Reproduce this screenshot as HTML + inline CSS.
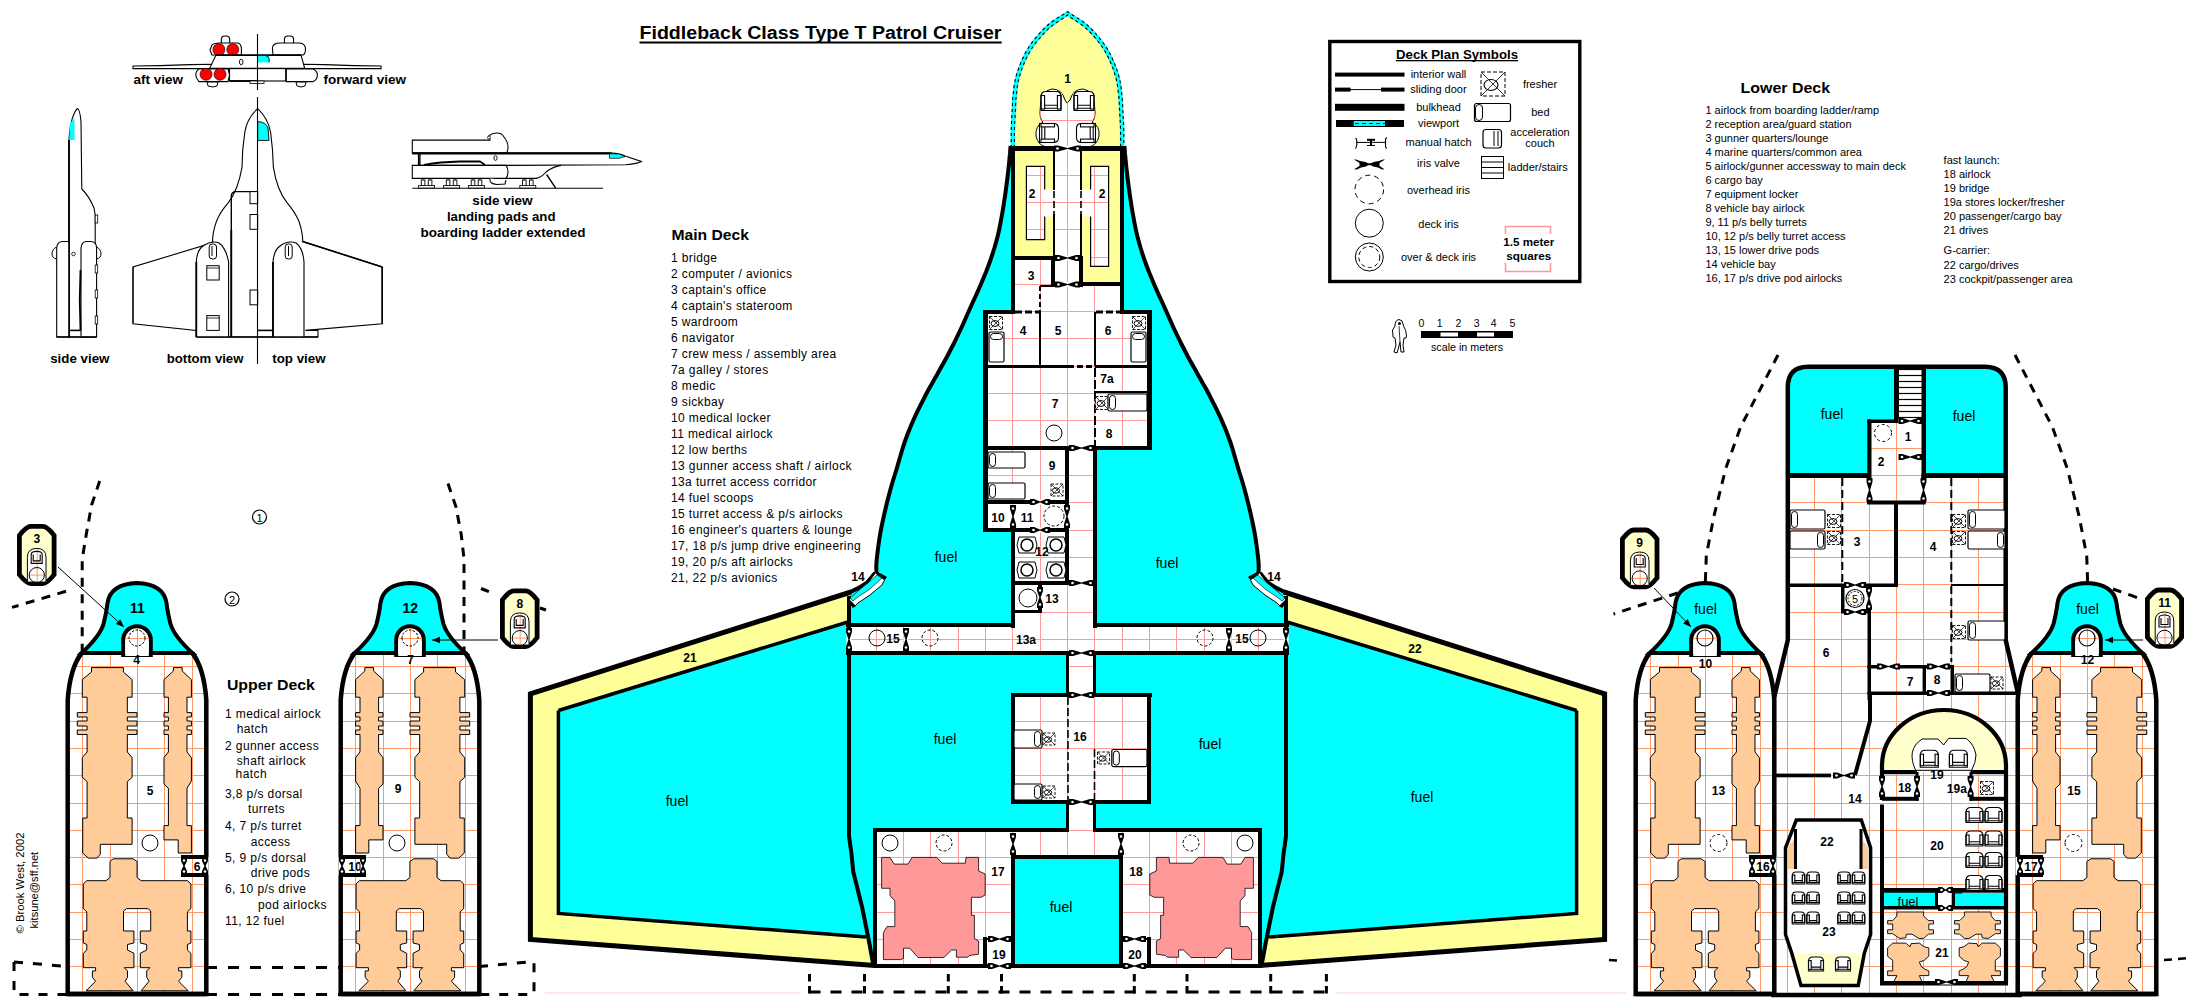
<!DOCTYPE html>
<html><head><meta charset="utf-8"><style>
html,body{margin:0;padding:0;background:#fff;overflow:hidden}
svg{display:block}
text{font-family:"Liberation Sans",sans-serif}
</style></head><body>
<svg width="2193" height="1002" viewBox="0 0 2193 1002" font-family="Liberation Sans, sans-serif">
<rect width="2193" height="1002" fill="#fff"/>
<polygon points="1010.5,148 1010.3,149.1 1010,153.5 1009.5,158.7 1009,164 1008.4,169.6 1007.7,175.6 1006.9,181.9 1006.1,188 1005.3,194 1004.4,200 1003.5,206 1002.5,212 1001.4,218 1000.3,224 999.1,230 997.7,236 996.1,242 994.4,248 992.5,254 990.5,260 988.3,266 986,272 983.5,278 981,284 978.4,290 975.7,296 972.9,302 970.2,308 967.5,314 964.9,320 962.2,326 959.4,332 956.5,338 953.6,344 950.5,350 947.4,356 944,362.2 940.4,368.6 937,374.7 934,380 931.8,384 930,387 928.3,390 926.2,394 923.5,399.3 920.4,405.4 917.2,411.8 914.3,418 911.7,424 909.2,430 906.9,436 904.7,442 902.7,448 901,454 899.2,460 897.5,466 895.7,472 893.8,478 892,484 890.3,490 888.7,496 887.1,502 885.7,508 884.3,514 883,520 881.7,526 880.5,532 879.5,538 878.6,544.3 877.7,550.9 877,557 876.5,562 876.3,565.7 876.3,568.5 876.4,570.5 876.5,572 874.3,574 867,582.8 858.2,588.1 849.8,592.3 849,600 849,836 851.5,854 853.3,872 857.8,890 862.3,908 865.9,926 869.5,944 873.5,965.5 1261.5,965.5 1265.5,944 1269.1,926 1272.7,908 1277.2,890 1281.7,872 1283.5,854 1286,836 1286,600 1285.2,592.3 1276.8,588.1 1268,582.8 1260.7,574 1258.5,572 1258.6,570.5 1258.7,568.5 1258.7,565.7 1258.5,562 1258,557 1257.3,550.9 1256.4,544.3 1255.5,538 1254.5,532 1253.3,526 1252,520 1250.7,514 1249.3,508 1247.8,502 1246.3,496 1244.7,490 1243,484 1241.2,478 1239.3,472 1237.5,466 1235.8,460 1234,454 1232.3,448 1230.3,442 1228.1,436 1225.8,430 1223.3,424 1220.7,418 1217.8,411.8 1214.6,405.4 1211.5,399.3 1208.8,394 1206.7,390 1205,387 1203.2,384 1201,380 1198,374.7 1194.6,368.6 1191,362.2 1187.6,356 1184.5,350 1181.4,344 1178.5,338 1175.6,332 1172.8,326 1170.1,320 1167.5,314 1164.8,308 1162.1,302 1159.3,296 1156.6,290 1154,284 1151.5,278 1149,272 1146.7,266 1144.5,260 1142.5,254 1140.6,248 1138.9,242 1137.3,236 1135.9,230 1134.7,224 1133.6,218 1132.5,212 1131.5,206 1130.6,200 1129.7,194 1128.9,188 1128.1,181.9 1127.3,175.6 1126.6,169.6 1126,164 1125.5,158.7 1125,153.5 1124.7,149.1 1124.5,148" fill="#00ffff" stroke="none" stroke-width="1" />
<polygon points="530.4,693.9 851,592 849,600 849,836 851.5,854 853.3,872 857.8,890 862.3,908 865.9,926 869.5,944 873.5,965.5 530.4,939.5" fill="#ffff99" stroke="none" stroke-width="1" />
<polygon points="558.4,710.5 848,622 849,836 851.5,854 853.3,872 857.8,890 862.3,908 865.9,926 868,937 558.4,913.5" fill="#00ffff" stroke="none" stroke-width="1" />
<polyline points="558.4,710.5 848,622" fill="none" stroke="#000" stroke-width="3.5" />
<polyline points="558.4,710.5 558.4,913.5 866,937" fill="none" stroke="#000" stroke-width="3.5" />
<polyline points="851,592 530.4,693.9 530.4,939.5 875,965.5" fill="none" stroke="#000" stroke-width="5" stroke-linejoin="miter"/>
<polygon points="1604.6,693.9 1284,592 1286,600 1286,836 1283.5,854 1281.7,872 1277.2,890 1272.7,908 1269.1,926 1265.5,944 1261.5,965.5 1604.6,939.5" fill="#ffff99" stroke="none" stroke-width="1" />
<polygon points="1576.6,710.5 1287,622 1286,836 1283.5,854 1281.7,872 1277.2,890 1272.7,908 1269.1,926 1267,937 1576.6,913.5" fill="#00ffff" stroke="none" stroke-width="1" />
<polyline points="1576.6,710.5 1287,622" fill="none" stroke="#000" stroke-width="3.5" />
<polyline points="1576.6,710.5 1576.6,913.5 1269,937" fill="none" stroke="#000" stroke-width="3.5" />
<polyline points="1284,592 1604.6,693.9 1604.6,939.5 1260,965.5" fill="none" stroke="#000" stroke-width="5" stroke-linejoin="miter"/>
<polygon points="1010.5,148 1010.5,144.4 1010.5,139.1 1010.5,133.3 1010.6,128 1010.8,123.3 1011,118.6 1011.3,114.2 1011.5,110 1011.7,106.3 1011.8,103.1 1012,99.8 1012.3,96 1012.8,91.6 1013.3,86.8 1014.1,81.9 1015.2,77 1016.6,72.1 1018.4,67.1 1020.3,62.1 1022.4,57.5 1024.5,53.3 1026.6,49.4 1029,45.5 1031.9,41.5 1035.4,37.1 1039.3,32.6 1043.5,28.1 1047.9,24 1053,20.1 1058.7,16.4 1063.9,13.2 1067.5,11 1071.1,13.2 1076.3,16.4 1082,20.1 1087.1,24 1091.5,28.1 1095.7,32.6 1099.6,37.1 1103.1,41.5 1106,45.5 1108.4,49.4 1110.5,53.3 1112.6,57.5 1114.7,62.1 1116.6,67.1 1118.4,72.1 1119.8,77 1120.9,81.9 1121.7,86.8 1122.2,91.6 1122.7,96 1123,99.8 1123.2,103.1 1123.3,106.3 1123.5,110 1123.7,114.2 1124,118.6 1124.2,123.3 1124.4,128 1124.5,133.3 1124.5,139.1 1124.5,144.4 1124.5,148" fill="#00ffff" stroke="none" stroke-width="1" />
<polygon points="1015.1,150 1015.1,144.4 1015.1,139.1 1015.1,133.4 1015.2,128.1 1015.4,123.5 1015.6,118.9 1015.9,114.4 1016.1,110.2 1016.3,106.5 1016.4,103.3 1016.5,100.1 1016.9,96.5 1017.3,92.1 1017.9,87.5 1018.6,82.8 1019.7,78.1 1021,73.5 1022.7,68.7 1024.6,63.9 1026.6,59.4 1028.5,55.4 1030.6,51.7 1032.8,48.1 1035.6,44.3 1038.9,40 1042.7,35.6 1046.7,31.4 1050.9,27.5 1055.7,23.9 1061.2,20.3 1066.3,17.1 1067.5,15.6 1068.7,17.1 1073.8,20.3 1079.3,23.9 1084.1,27.5 1088.3,31.4 1092.3,35.6 1096.1,40 1099.4,44.3 1102.2,48.1 1104.4,51.7 1106.5,55.4 1108.4,59.4 1110.4,63.9 1112.3,68.7 1114,73.5 1115.3,78.1 1116.4,82.8 1117.1,87.5 1117.7,92.1 1118.1,96.5 1118.5,100.1 1118.6,103.3 1118.7,106.5 1118.9,110.2 1119.1,114.4 1119.4,118.9 1119.6,123.5 1119.8,128.1 1119.9,133.4 1119.9,139.1 1119.9,144.4 1119.9,150" fill="#ffff99" stroke="none" stroke-width="1" />
<clipPath id="mdfloor">
<rect x="1054" y="148" width="27" height="164"/>
<rect x="1014" y="259" width="40" height="53"/>
<rect x="1014" y="285" width="108" height="27"/>
<rect x="986" y="312" width="163" height="136"/>
<rect x="986" y="448" width="81" height="82"/>
<rect x="1067" y="448" width="28" height="382"/>
<rect x="1013" y="530" width="54" height="97"/>
<rect x="849" y="626" width="437" height="27"/>
<rect x="1013" y="695" width="136" height="107"/>
<rect x="875" y="830" width="385" height="136"/>
</clipPath>
<rect x="1054" y="148" width="27" height="164" fill="#fff" stroke="none" stroke-width="1" />
<rect x="1014" y="259" width="40" height="53" fill="#fff" stroke="none" stroke-width="1" />
<rect x="1014" y="285" width="108" height="27" fill="#fff" stroke="none" stroke-width="1" />
<rect x="986" y="312" width="163" height="136" fill="#fff" stroke="none" stroke-width="1" />
<rect x="986" y="448" width="81" height="82" fill="#fff" stroke="none" stroke-width="1" />
<rect x="1067" y="448" width="28" height="382" fill="#fff" stroke="none" stroke-width="1" />
<rect x="1013" y="530" width="54" height="97" fill="#fff" stroke="none" stroke-width="1" />
<rect x="849" y="626" width="437" height="27" fill="#fff" stroke="none" stroke-width="1" />
<rect x="1013" y="695" width="136" height="107" fill="#fff" stroke="none" stroke-width="1" />
<rect x="875" y="830" width="385" height="136" fill="#fff" stroke="none" stroke-width="1" />
<rect x="1014" y="150" width="40" height="107" fill="#ffff99" stroke="none" stroke-width="1" />
<rect x="1081" y="150" width="41" height="134" fill="#ffff99" stroke="none" stroke-width="1" />
<polygon points="1026.4,166.4 1044.7,166.4 1044.7,189.6 1053,189.6 1053,216.6 1044.7,216.6 1044.7,239.6 1026.4,239.6" fill="#fff" stroke="none" stroke-width="1" />
<polygon points="1108.6,166.4 1090.6,166.4 1090.6,189.6 1081.6,189.6 1081.6,216.6 1090.6,216.6 1090.6,266.3 1108.6,266.3" fill="#fff" stroke="none" stroke-width="1" />
<path d="M1040,112 Q1040,90 1052,89 Q1062,89 1065,100 L1067,103 L1070,100 Q1073,89 1083,89 Q1095,90 1095,112 Q1095,120 1092,122 Q1100,126 1099,136 Q1097,146 1088,147 L1047,147 Q1038,146 1036,136 Q1035,126 1043,122 Q1040,120 1040,112 Z" fill="#fff" stroke="#000" stroke-width="1" />
<path d="M821.5 90V970M849.5 90V970M876.5 90V970M903.5 90V970M930.5 90V970M958.5 90V970M985.5 90V970M1012.5 90V970M1040.5 90V970M1067.5 90V970M1094.5 90V970M1122.5 90V970M1149.5 90V970M1176.5 90V970M1204.5 90V970M1231.5 90V970M1258.5 90V970M1285.5 90V970M1313.5 90V970M840 66.5H1290M840 93.5H1290M840 120.5H1290M840 147.5H1290M840 175.5H1290M840 202.5H1290M840 229.5H1290M840 257.5H1290M840 284.5H1290M840 311.5H1290M840 338.5H1290M840 366.5H1290M840 393.5H1290M840 420.5H1290M840 448.5H1290M840 475.5H1290M840 502.5H1290M840 530.5H1290M840 557.5H1290M840 584.5H1290M840 612.5H1290M840 639.5H1290M840 666.5H1290M840 693.5H1290M840 721.5H1290M840 748.5H1290M840 775.5H1290M840 803.5H1290M840 830.5H1290M840 857.5H1290M840 884.5H1290M840 912.5H1290M840 939.5H1290M840 966.5H1290M840 994.5H1290" stroke="#ff9999" stroke-width="1" fill="none" clip-path="url(#mdfloor)"/>
<clipPath id="brclip"><path d="M1040,112 Q1040,90 1052,89 Q1062,89 1065,100 L1067,103 L1070,100 Q1073,89 1083,89 Q1095,90 1095,112 Q1095,120 1092,122 Q1100,126 1099,136 Q1097,146 1088,147 L1047,147 Q1038,146 1036,136 Q1035,126 1043,122 Q1040,120 1040,112 Z"/></clipPath>
<path d="M1012.5 85V148M1040.5 85V148M1067.5 85V148M1094.5 85V148M1122.5 85V148M1030 66.5H1105M1030 93.5H1105M1030 120.5H1105M1030 147.5H1105M1030 175.5H1105" stroke="#ff9999" stroke-width="1" fill="none" clip-path="url(#brclip)"/>
<clipPath id="hclip"><polygon points="1026.4,166.4 1044.7,166.4 1044.7,189.6 1053,189.6 1053,216.6 1044.7,216.6 1044.7,239.6 1026.4,239.6"/><polygon points="1108.6,166.4 1090.6,166.4 1090.6,189.6 1081.6,189.6 1081.6,216.6 1090.6,216.6 1090.6,266.3 1108.6,266.3"/></clipPath>
<path d="M1012.5 150V284M1040.5 150V284M1067.5 150V284M1094.5 150V284M1122.5 150V284M1149.5 150V284M1014 147.5H1122M1014 175.5H1122M1014 202.5H1122M1014 229.5H1122M1014 257.5H1122M1014 284.5H1122M1014 311.5H1122" stroke="#ff9999" stroke-width="1" fill="none" clip-path="url(#hclip)"/>
<polyline points="1044.7,216.6 1044.7,239.6 1026.4,239.6 1026.4,166.4 1044.7,166.4 1044.7,189.6" fill="none" stroke="#000" stroke-width="1.2" />
<polyline points="1090.6,216.6 1090.6,266.3 1108.6,266.3 1108.6,166.4 1090.6,166.4 1090.6,189.6" fill="none" stroke="#000" stroke-width="1.2" />
<rect x="1013" y="857" width="108" height="109" fill="#00ffff" stroke="none" stroke-width="1" />
<polygon points="881.6,857.4 890,857.4 894.2,864.1 907.9,864.1 912.1,857.4 936.7,857.4 942.1,863.2 965.4,863.2 966,857.4 978.6,857.4 978.6,871 985.2,874 985.2,894.9 981,897.3 971.4,897.3 971.4,915.3 974.4,915.3 974.4,938.6 978.6,941 978.6,954.2 969.6,955.4 967.8,957.2 956.4,957.2 956.4,950 951.6,950 943.9,957.5 918.1,957.5 909.7,948.2 903.5,948.2 903.5,958.4 900.7,959.6 883.4,959.6 883.4,932.6 887,926.6 894.8,926.6 894.8,900.9 890,895.5 890,888.3 881.6,888.3" fill="#ff9999" stroke="#000" stroke-width="0.8" />
<polygon points="1253.4,857.4 1245,857.4 1240.8,864.1 1227.1,864.1 1222.9,857.4 1198.3,857.4 1192.9,863.2 1169.6,863.2 1169,857.4 1156.4,857.4 1156.4,871 1149.8,874 1149.8,894.9 1154,897.3 1163.6,897.3 1163.6,915.3 1160.6,915.3 1160.6,938.6 1156.4,941 1156.4,954.2 1165.4,955.4 1167.2,957.2 1178.6,957.2 1178.6,950 1183.4,950 1191.1,957.5 1216.9,957.5 1225.3,948.2 1231.5,948.2 1231.5,958.4 1234.3,959.6 1251.6,959.6 1251.6,932.6 1248,926.6 1240.2,926.6 1240.2,900.9 1245,895.5 1245,888.3 1253.4,888.3" fill="#ff9999" stroke="#000" stroke-width="0.8" />
<polyline points="1011.2,148 1011.2,144.4 1011.2,139.1 1011.2,133.3 1011.3,128 1011.5,123.3 1011.7,118.7 1012,114.2 1012.2,110 1012.4,106.4 1012.5,103.1 1012.7,99.8 1013,96.1 1013.5,91.7 1014,86.9 1014.8,82 1015.9,77.2 1017.3,72.3 1019,67.3 1021,62.4 1023,57.8 1025.1,53.6 1027.2,49.7 1029.6,45.9 1032.5,41.9 1035.9,37.6 1039.8,33 1044,28.6 1048.4,24.5 1053.4,20.7 1059.1,17 1064.3,13.8 1067.5,11.7 1070.7,13.8 1075.9,17 1081.6,20.7 1086.6,24.5 1091,28.6 1095.2,33 1099.1,37.6 1102.5,41.9 1105.4,45.9 1107.8,49.7 1109.9,53.6 1112,57.8 1114,62.4 1116,67.3 1117.7,72.3 1119.1,77.2 1120.2,82 1121,86.9 1121.5,91.7 1122,96.1 1122.3,99.8 1122.5,103.1 1122.6,106.4 1122.8,110 1123,114.2 1123.3,118.7 1123.5,123.3 1123.7,128 1123.8,133.3 1123.8,139.1 1123.8,144.4 1123.8,148" fill="none" stroke="#000" stroke-width="1.1" stroke-dasharray="3 3"/>
<polyline points="1014.4,148 1014.4,144.4 1014.4,139.1 1014.4,133.4 1014.5,128.1 1014.7,123.4 1014.9,118.8 1015.2,114.4 1015.4,110.2 1015.6,106.5 1015.7,103.2 1015.8,100 1016.2,96.4 1016.7,92.1 1017.2,87.4 1018,82.6 1019,78 1020.4,73.3 1022,68.4 1023.9,63.7 1025.9,59.1 1027.9,55.1 1030,51.3 1032.3,47.7 1035,43.8 1038.4,39.6 1042.2,35.2 1046.2,30.9 1050.4,27 1055.3,23.3 1060.8,19.7 1065.9,16.6 1067.5,14.9 1069.1,16.6 1074.2,19.7 1079.7,23.3 1084.6,27 1088.8,30.9 1092.8,35.2 1096.6,39.6 1100,43.8 1102.7,47.7 1105,51.3 1107.1,55.1 1109.1,59.1 1111.1,63.7 1113,68.4 1114.6,73.3 1116,78 1117,82.6 1117.8,87.4 1118.3,92.1 1118.8,96.4 1119.2,100 1119.3,103.2 1119.4,106.5 1119.6,110.2 1119.8,114.4 1120.1,118.8 1120.3,123.4 1120.5,128.1 1120.6,133.4 1120.6,139.1 1120.6,144.4 1120.6,148" fill="none" stroke="#000" stroke-width="1.1" stroke-dasharray="3 3"/>
<polyline points="1010.6,146 1010.3,149.1 1010,153.5 1009.5,158.7 1009,164 1008.4,169.6 1007.7,175.6 1006.9,181.9 1006.1,188 1005.3,194 1004.4,200 1003.5,206 1002.5,212 1001.4,218 1000.3,224 999.1,230 997.7,236 996.1,242 994.4,248 992.5,254 990.5,260 988.3,266 986,272 983.5,278 981,284 978.4,290 975.7,296 972.9,302 970.2,308 967.5,314 964.9,320 962.2,326 959.4,332 956.5,338 953.6,344 950.5,350 947.4,356 944,362.2 940.4,368.6 937,374.7 934,380 931.8,384 930,387 928.3,390 926.2,394 923.5,399.3 920.4,405.4 917.2,411.8 914.3,418 911.7,424 909.2,430 906.9,436 904.7,442 902.7,448 901,454 899.2,460 897.5,466 895.7,472 893.8,478 892,484 890.3,490 888.7,496 887.1,502 885.7,508 884.3,514 883,520 881.7,526 880.5,532 879.5,538 878.6,544.3 877.7,550.9 877,557 876.5,562 876.3,565.7 876.3,568.5 876.4,570.5 876.5,572 874.3,574 867,582.8 858.2,588.1 849.8,592.3" fill="none" stroke="#000" stroke-width="4" />
<polyline points="1124.4,146 1124.7,149.1 1125,153.5 1125.5,158.7 1126,164 1126.6,169.6 1127.3,175.6 1128.1,181.9 1128.9,188 1129.7,194 1130.6,200 1131.5,206 1132.5,212 1133.6,218 1134.7,224 1135.9,230 1137.3,236 1138.9,242 1140.6,248 1142.5,254 1144.5,260 1146.7,266 1149,272 1151.5,278 1154,284 1156.6,290 1159.3,296 1162.1,302 1164.8,308 1167.5,314 1170.1,320 1172.8,326 1175.6,332 1178.5,338 1181.4,344 1184.5,350 1187.6,356 1191,362.2 1194.6,368.6 1198,374.7 1201,380 1203.2,384 1205,387 1206.7,390 1208.8,394 1211.5,399.3 1214.6,405.4 1217.8,411.8 1220.7,418 1223.3,424 1225.8,430 1228.1,436 1230.3,442 1232.3,448 1234,454 1235.8,460 1237.5,466 1239.3,472 1241.2,478 1243,484 1244.7,490 1246.3,496 1247.8,502 1249.3,508 1250.7,514 1252,520 1253.3,526 1254.5,532 1255.5,538 1256.4,544.3 1257.3,550.9 1258,557 1258.5,562 1258.7,565.7 1258.7,568.5 1258.6,570.5 1258.5,572 1260.7,574 1268,582.8 1276.8,588.1 1285.2,592.3" fill="none" stroke="#000" stroke-width="4" />
<polyline points="849,596 849,836 851.5,854 853.3,872 857.8,890 862.3,908 865.9,926 869.5,944 873.5,966" fill="none" stroke="#000" stroke-width="4" />
<polyline points="1286,596 1286,836 1283.5,854 1281.7,872 1277.2,890 1272.7,908 1269.1,926 1265.5,944 1261.5,966" fill="none" stroke="#000" stroke-width="4" />
<rect x="1010" y="146" width="115" height="5" fill="#000" stroke="none" stroke-width="1" />
<rect x="1011" y="148" width="4" height="165" fill="#000" stroke="none" stroke-width="1" />
<rect x="1120" y="148" width="4" height="165" fill="#000" stroke="none" stroke-width="1" />
<rect x="1053" y="148" width="2" height="42" fill="#000" stroke="none" stroke-width="1" />
<rect x="1053" y="214" width="2" height="45" fill="#000" stroke="none" stroke-width="1" />
<rect x="1080" y="148" width="2" height="42" fill="#000" stroke="none" stroke-width="1" />
<rect x="1080" y="214" width="2" height="72" fill="#000" stroke="none" stroke-width="1" />
<line x1="1054" y1="191" x2="1054" y2="214" stroke="#000" stroke-width="1.6" stroke-dasharray="7 3" />
<line x1="1081" y1="191" x2="1081" y2="214" stroke="#000" stroke-width="1.6" stroke-dasharray="7 3" />
<rect x="1011" y="256" width="44" height="4" fill="#000" stroke="none" stroke-width="1" />
<rect x="1051" y="256" width="4" height="31" fill="#000" stroke="none" stroke-width="1" />
<rect x="1079" y="256" width="4" height="31" fill="#000" stroke="none" stroke-width="1" />
<rect x="1081" y="282" width="43" height="4" fill="#000" stroke="none" stroke-width="1" />
<line x1="1040" y1="286" x2="1040" y2="312" stroke="#000" stroke-width="2" stroke-dasharray="5 3" />
<line x1="1040" y1="286" x2="1053" y2="286" stroke="#000" stroke-width="2" />
<rect x="983" y="310" width="32" height="4" fill="#000" stroke="none" stroke-width="1" />
<rect x="1120" y="310" width="32" height="4" fill="#000" stroke="none" stroke-width="1" />
<line x1="1015" y1="312" x2="1040" y2="312" stroke="#000" stroke-width="3" stroke-dasharray="7 3" />
<line x1="1096" y1="312" x2="1120" y2="312" stroke="#000" stroke-width="3" stroke-dasharray="7 3" />
<rect x="983" y="310" width="5" height="222" fill="#000" stroke="none" stroke-width="1" />
<rect x="1147" y="310" width="5" height="140" fill="#000" stroke="none" stroke-width="1" />
<rect x="1039" y="312" width="2" height="54" fill="#000" stroke="none" stroke-width="1" />
<rect x="1094" y="312" width="2" height="54" fill="#000" stroke="none" stroke-width="1" />
<rect x="986" y="365" width="82" height="3" fill="#000" stroke="none" stroke-width="1" />
<rect x="1096" y="365" width="53" height="3" fill="#000" stroke="none" stroke-width="1" />
<line x1="1068" y1="366.5" x2="1096" y2="366.5" stroke="#000" stroke-width="3" stroke-dasharray="6 3" />
<line x1="1095" y1="368" x2="1095" y2="446" stroke="#000" stroke-width="2" stroke-dasharray="9 3" />
<rect x="1094" y="391" width="55" height="2" fill="#000" stroke="none" stroke-width="1" />
<rect x="983" y="446" width="169" height="4" fill="#000" stroke="none" stroke-width="1" />
<rect x="1065" y="448" width="4" height="137" fill="#000" stroke="none" stroke-width="1" />
<rect x="1093" y="448" width="4" height="180" fill="#000" stroke="none" stroke-width="1" />
<rect x="986" y="500" width="82" height="4" fill="#000" stroke="none" stroke-width="1" />
<rect x="983" y="528" width="85" height="4" fill="#000" stroke="none" stroke-width="1" />
<rect x="1011" y="528" width="4" height="100" fill="#000" stroke="none" stroke-width="1" />
<rect x="1012" y="505" width="2" height="25" fill="#000" stroke="none" stroke-width="1" />
<rect x="1013" y="581" width="56" height="4" fill="#000" stroke="none" stroke-width="1" />
<rect x="1038" y="584" width="4" height="29" fill="#000" stroke="none" stroke-width="1" />
<rect x="1013" y="610" width="29" height="3" fill="#000" stroke="none" stroke-width="1" />
<rect x="846" y="623" width="169" height="4" fill="#000" stroke="none" stroke-width="1" />
<rect x="1093" y="623" width="196" height="4" fill="#000" stroke="none" stroke-width="1" />
<rect x="846" y="651" width="223" height="4" fill="#000" stroke="none" stroke-width="1" />
<rect x="1093" y="651" width="196" height="4" fill="#000" stroke="none" stroke-width="1" />
<rect x="1011" y="693" width="58" height="4" fill="#000" stroke="none" stroke-width="1" />
<rect x="1093" y="693" width="59" height="4" fill="#000" stroke="none" stroke-width="1" />
<rect x="1011" y="693" width="4" height="111" fill="#000" stroke="none" stroke-width="1" />
<rect x="1147" y="693" width="4" height="111" fill="#000" stroke="none" stroke-width="1" />
<rect x="1011" y="800" width="58" height="4" fill="#000" stroke="none" stroke-width="1" />
<rect x="1093" y="800" width="58" height="4" fill="#000" stroke="none" stroke-width="1" />
<rect x="1066" y="655" width="3" height="42" fill="#000" stroke="none" stroke-width="1" />
<rect x="1093" y="655" width="3" height="42" fill="#000" stroke="none" stroke-width="1" />
<line x1="1068" y1="697" x2="1068" y2="800" stroke="#000" stroke-width="1.6" stroke-dasharray="8 3" />
<line x1="1094.5" y1="749" x2="1094.5" y2="800" stroke="#000" stroke-width="1.6" stroke-dasharray="8 3" />
<rect x="1066" y="802" width="3" height="30" fill="#000" stroke="none" stroke-width="1" />
<rect x="1093" y="802" width="3" height="30" fill="#000" stroke="none" stroke-width="1" />
<rect x="873" y="828" width="196" height="4" fill="#000" stroke="none" stroke-width="1" />
<rect x="1093" y="828" width="169" height="4" fill="#000" stroke="none" stroke-width="1" />
<rect x="873" y="830" width="4" height="138" fill="#000" stroke="none" stroke-width="1" />
<rect x="1258" y="830" width="4" height="138" fill="#000" stroke="none" stroke-width="1" />
<rect x="873" y="964" width="389" height="4" fill="#000" stroke="none" stroke-width="1" />
<rect x="1011" y="855" width="112" height="4" fill="#000" stroke="none" stroke-width="1" />
<rect x="1011" y="855" width="4" height="111" fill="#000" stroke="none" stroke-width="1" />
<rect x="1119" y="855" width="4" height="111" fill="#000" stroke="none" stroke-width="1" />
<rect x="983" y="937" width="4" height="29" fill="#000" stroke="none" stroke-width="1" />
<rect x="1147" y="937" width="4" height="29" fill="#000" stroke="none" stroke-width="1" />
<line x1="985" y1="939" x2="1013" y2="939" stroke="#000" stroke-width="2" />
<line x1="1121" y1="939" x2="1149" y2="939" stroke="#000" stroke-width="2" />
<rect x="1054" y="146" width="27" height="5" fill="#fff" stroke="none" stroke-width="1" />
<path d="M1054 145.5L1058 145.5L1067.5 147.9L1077 145.5L1081 145.5L1081 151.5L1077 151.5L1067.5 149.1L1058 151.5L1054 151.5Z" fill="#000"/>
<circle cx="1057.5" cy="148.5" r="1.3" fill="#fff" stroke="none" stroke-width="1" />
<circle cx="1077.5" cy="148.5" r="1.3" fill="#fff" stroke="none" stroke-width="1" />
<rect x="1055" y="255.5" width="25" height="5" fill="#fff" stroke="none" stroke-width="1" />
<path d="M1055 255L1059 255L1067.5 257.4L1076 255L1080 255L1080 261L1076 261L1067.5 258.6L1059 261L1055 261Z" fill="#000"/>
<circle cx="1058.5" cy="258" r="1.3" fill="#fff" stroke="none" stroke-width="1" />
<circle cx="1076.5" cy="258" r="1.3" fill="#fff" stroke="none" stroke-width="1" />
<rect x="1055" y="282" width="25" height="5" fill="#fff" stroke="none" stroke-width="1" />
<path d="M1055 281.5L1059 281.5L1067.5 283.9L1076 281.5L1080 281.5L1080 287.5L1076 287.5L1067.5 285.1L1059 287.5L1055 287.5Z" fill="#000"/>
<circle cx="1058.5" cy="284.5" r="1.3" fill="#fff" stroke="none" stroke-width="1" />
<circle cx="1076.5" cy="284.5" r="1.3" fill="#fff" stroke="none" stroke-width="1" />
<rect x="1069" y="445.5" width="25" height="5" fill="#fff" stroke="none" stroke-width="1" />
<path d="M1069 445L1073 445L1081.5 447.4L1090 445L1094 445L1094 451L1090 451L1081.5 448.6L1073 451L1069 451Z" fill="#000"/>
<circle cx="1072.5" cy="448" r="1.3" fill="#fff" stroke="none" stroke-width="1" />
<circle cx="1090.5" cy="448" r="1.3" fill="#fff" stroke="none" stroke-width="1" />
<rect x="1030" y="499.5" width="20" height="5" fill="#fff" stroke="none" stroke-width="1" />
<path d="M1030 499L1034 499L1040 501.4L1046 499L1050 499L1050 505L1046 505L1040 502.6L1034 505L1030 505Z" fill="#000"/>
<circle cx="1033.5" cy="502" r="1.3" fill="#fff" stroke="none" stroke-width="1" />
<circle cx="1046.5" cy="502" r="1.3" fill="#fff" stroke="none" stroke-width="1" />
<rect x="1030" y="527.5" width="20" height="5" fill="#fff" stroke="none" stroke-width="1" />
<path d="M1030 527L1034 527L1040 529.4L1046 527L1050 527L1050 533L1046 533L1040 530.6L1034 533L1030 533Z" fill="#000"/>
<circle cx="1033.5" cy="530" r="1.3" fill="#fff" stroke="none" stroke-width="1" />
<circle cx="1046.5" cy="530" r="1.3" fill="#fff" stroke="none" stroke-width="1" />
<rect x="1010.5" y="505" width="5" height="23" fill="#fff" stroke="none" stroke-width="1" />
<path d="M1010 505L1010 509L1012.4 516.5L1010 524L1010 528L1016 528L1016 524L1013.6 516.5L1016 509L1016 505Z" fill="#000"/>
<circle cx="1013" cy="508.5" r="1.3" fill="#fff" stroke="none" stroke-width="1" />
<circle cx="1013" cy="524.5" r="1.3" fill="#fff" stroke="none" stroke-width="1" />
<rect x="1064.5" y="505" width="5" height="23" fill="#fff" stroke="none" stroke-width="1" />
<path d="M1064 505L1064 509L1066.4 516.5L1064 524L1064 528L1070 528L1070 524L1067.6 516.5L1070 509L1070 505Z" fill="#000"/>
<circle cx="1067" cy="508.5" r="1.3" fill="#fff" stroke="none" stroke-width="1" />
<circle cx="1067" cy="524.5" r="1.3" fill="#fff" stroke="none" stroke-width="1" />
<rect x="1069" y="580.5" width="25" height="5" fill="#fff" stroke="none" stroke-width="1" />
<path d="M1069 580L1073 580L1081.5 582.4L1090 580L1094 580L1094 586L1090 586L1081.5 583.6L1073 586L1069 586Z" fill="#000"/>
<circle cx="1072.5" cy="583" r="1.3" fill="#fff" stroke="none" stroke-width="1" />
<circle cx="1090.5" cy="583" r="1.3" fill="#fff" stroke="none" stroke-width="1" />
<rect x="1037.5" y="587" width="5" height="21" fill="#fff" stroke="none" stroke-width="1" />
<path d="M1037 587L1037 591L1039.4 597.5L1037 604L1037 608L1043 608L1043 604L1040.6 597.5L1043 591L1043 587Z" fill="#000"/>
<circle cx="1040" cy="590.5" r="1.3" fill="#fff" stroke="none" stroke-width="1" />
<circle cx="1040" cy="604.5" r="1.3" fill="#fff" stroke="none" stroke-width="1" />
<rect x="846.5" y="628" width="5" height="23" fill="#fff" stroke="none" stroke-width="1" />
<path d="M846 628L846 632L848.4 639.5L846 647L846 651L852 651L852 647L849.6 639.5L852 632L852 628Z" fill="#000"/>
<circle cx="849" cy="631.5" r="1.3" fill="#fff" stroke="none" stroke-width="1" />
<circle cx="849" cy="647.5" r="1.3" fill="#fff" stroke="none" stroke-width="1" />
<rect x="903.5" y="628" width="5" height="23" fill="#fff" stroke="none" stroke-width="1" />
<path d="M903 628L903 632L905.4 639.5L903 647L903 651L909 651L909 647L906.6 639.5L909 632L909 628Z" fill="#000"/>
<circle cx="906" cy="631.5" r="1.3" fill="#fff" stroke="none" stroke-width="1" />
<circle cx="906" cy="647.5" r="1.3" fill="#fff" stroke="none" stroke-width="1" />
<rect x="1283.5" y="628" width="5" height="23" fill="#fff" stroke="none" stroke-width="1" />
<path d="M1283 628L1283 632L1285.4 639.5L1283 647L1283 651L1289 651L1289 647L1286.6 639.5L1289 632L1289 628Z" fill="#000"/>
<circle cx="1286" cy="631.5" r="1.3" fill="#fff" stroke="none" stroke-width="1" />
<circle cx="1286" cy="647.5" r="1.3" fill="#fff" stroke="none" stroke-width="1" />
<rect x="1226.5" y="628" width="5" height="23" fill="#fff" stroke="none" stroke-width="1" />
<path d="M1226 628L1226 632L1228.4 639.5L1226 647L1226 651L1232 651L1232 647L1229.6 639.5L1232 632L1232 628Z" fill="#000"/>
<circle cx="1229" cy="631.5" r="1.3" fill="#fff" stroke="none" stroke-width="1" />
<circle cx="1229" cy="647.5" r="1.3" fill="#fff" stroke="none" stroke-width="1" />
<rect x="1069" y="799.5" width="25" height="5" fill="#fff" stroke="none" stroke-width="1" />
<path d="M1069 799L1073 799L1081.5 801.4L1090 799L1094 799L1094 805L1090 805L1081.5 802.6L1073 805L1069 805Z" fill="#000"/>
<circle cx="1072.5" cy="802" r="1.3" fill="#fff" stroke="none" stroke-width="1" />
<circle cx="1090.5" cy="802" r="1.3" fill="#fff" stroke="none" stroke-width="1" />
<rect x="1069" y="692.5" width="25" height="5" fill="#fff" stroke="none" stroke-width="1" />
<path d="M1069 692L1073 692L1081.5 694.4L1090 692L1094 692L1094 698L1090 698L1081.5 695.6L1073 698L1069 698Z" fill="#000"/>
<circle cx="1072.5" cy="695" r="1.3" fill="#fff" stroke="none" stroke-width="1" />
<circle cx="1090.5" cy="695" r="1.3" fill="#fff" stroke="none" stroke-width="1" />
<rect x="1069" y="650.5" width="25" height="5" fill="#fff" stroke="none" stroke-width="1" />
<path d="M1069 650L1073 650L1081.5 652.4L1090 650L1094 650L1094 656L1090 656L1081.5 653.6L1073 656L1069 656Z" fill="#000"/>
<circle cx="1072.5" cy="653" r="1.3" fill="#fff" stroke="none" stroke-width="1" />
<circle cx="1090.5" cy="653" r="1.3" fill="#fff" stroke="none" stroke-width="1" />
<rect x="1010.5" y="833" width="5" height="22" fill="#fff" stroke="none" stroke-width="1" />
<path d="M1010 833L1010 837L1012.4 844L1010 851L1010 855L1016 855L1016 851L1013.6 844L1016 837L1016 833Z" fill="#000"/>
<circle cx="1013" cy="836.5" r="1.3" fill="#fff" stroke="none" stroke-width="1" />
<circle cx="1013" cy="851.5" r="1.3" fill="#fff" stroke="none" stroke-width="1" />
<rect x="1118.5" y="833" width="5" height="22" fill="#fff" stroke="none" stroke-width="1" />
<path d="M1118 833L1118 837L1120.4 844L1118 851L1118 855L1124 855L1124 851L1121.6 844L1124 837L1124 833Z" fill="#000"/>
<circle cx="1121" cy="836.5" r="1.3" fill="#fff" stroke="none" stroke-width="1" />
<circle cx="1121" cy="851.5" r="1.3" fill="#fff" stroke="none" stroke-width="1" />
<rect x="988" y="936.5" width="23" height="5" fill="#fff" stroke="none" stroke-width="1" />
<path d="M988 936L992 936L999.5 938.4L1007 936L1011 936L1011 942L1007 942L999.5 939.6L992 942L988 942Z" fill="#000"/>
<circle cx="991.5" cy="939" r="1.3" fill="#fff" stroke="none" stroke-width="1" />
<circle cx="1007.5" cy="939" r="1.3" fill="#fff" stroke="none" stroke-width="1" />
<rect x="1123" y="936.5" width="23" height="5" fill="#fff" stroke="none" stroke-width="1" />
<path d="M1123 936L1127 936L1134.5 938.4L1142 936L1146 936L1146 942L1142 942L1134.5 939.6L1127 942L1123 942Z" fill="#000"/>
<circle cx="1126.5" cy="939" r="1.3" fill="#fff" stroke="none" stroke-width="1" />
<circle cx="1142.5" cy="939" r="1.3" fill="#fff" stroke="none" stroke-width="1" />
<rect x="988" y="963.5" width="23" height="5" fill="#fff" stroke="none" stroke-width="1" />
<path d="M988 963L992 963L999.5 965.4L1007 963L1011 963L1011 969L1007 969L999.5 966.6L992 969L988 969Z" fill="#000"/>
<circle cx="991.5" cy="966" r="1.3" fill="#fff" stroke="none" stroke-width="1" />
<circle cx="1007.5" cy="966" r="1.3" fill="#fff" stroke="none" stroke-width="1" />
<rect x="1123" y="963.5" width="23" height="5" fill="#fff" stroke="none" stroke-width="1" />
<path d="M1123 963L1127 963L1134.5 965.4L1142 963L1146 963L1146 969L1142 969L1134.5 966.6L1127 969L1123 969Z" fill="#000"/>
<circle cx="1126.5" cy="966" r="1.3" fill="#fff" stroke="none" stroke-width="1" />
<circle cx="1142.5" cy="966" r="1.3" fill="#fff" stroke="none" stroke-width="1" />
<g transform="translate(1051,101) rotate(0)" fill="none" stroke="#000" stroke-width="1.1"><path d="M-10,9.5 L-10,-4.5 Q-10,-9.5 -5,-9.5 L5,-9.5 Q10,-9.5 10,-4.5 L10,9.5 Z" fill="#fff"/><rect x="-10" y="-5.5" width="3.6" height="13.5"/><rect x="6.4" y="-5.5" width="3.6" height="13.5"/><path d="M-6.4,4.2H6.4M-6.4,7.2H6.4"/></g>
<g transform="translate(1084,101) rotate(0)" fill="none" stroke="#000" stroke-width="1.1"><path d="M-10,9.5 L-10,-4.5 Q-10,-9.5 -5,-9.5 L5,-9.5 Q10,-9.5 10,-4.5 L10,9.5 Z" fill="#fff"/><rect x="-10" y="-5.5" width="3.6" height="13.5"/><rect x="6.4" y="-5.5" width="3.6" height="13.5"/><path d="M-6.4,4.2H6.4M-6.4,7.2H6.4"/></g>
<g transform="translate(1049,133) rotate(90)" fill="none" stroke="#000" stroke-width="1.1"><path d="M-9.5,9.5 L-9.5,-4.5 Q-9.5,-9.5 -4.5,-9.5 L4.5,-9.5 Q9.5,-9.5 9.5,-4.5 L9.5,9.5 Z" fill="#fff"/><rect x="-9.5" y="-5.5" width="3.4" height="13.5"/><rect x="6.1" y="-5.5" width="3.4" height="13.5"/><path d="M-6.1,4.2H6.1M-6.1,7.2H6.1"/></g>
<g transform="translate(1086,133) rotate(-90)" fill="none" stroke="#000" stroke-width="1.1"><path d="M-9.5,9.5 L-9.5,-4.5 Q-9.5,-9.5 -4.5,-9.5 L4.5,-9.5 Q9.5,-9.5 9.5,-4.5 L9.5,9.5 Z" fill="#fff"/><rect x="-9.5" y="-5.5" width="3.4" height="13.5"/><rect x="6.1" y="-5.5" width="3.4" height="13.5"/><path d="M-6.1,4.2H6.1M-6.1,7.2H6.1"/></g>
<rect x="989.5" y="316.5" width="13" height="13" fill="#fff" stroke="#000" stroke-width="0.9" stroke-dasharray="3 1.5"/>
<ellipse cx="995" cy="323.5" rx="3.9" ry="2.9" fill="none" stroke="#000" stroke-width="1"/>
<line x1="989.5" y1="316.5" x2="1002.5" y2="329.5" stroke="#000" stroke-width="0.7" />
<line x1="1002.5" y1="316.5" x2="989.5" y2="329.5" stroke="#000" stroke-width="0.7" />
<rect x="989" y="332" width="15" height="30" rx="1.5" fill="#fff" stroke="#000" stroke-width="1.2" />
<rect x="990.5" y="333.5" width="12" height="6" rx="3" fill="#fff" stroke="#000" stroke-width="1" />
<rect x="1132.5" y="316.5" width="13" height="13" fill="#fff" stroke="#000" stroke-width="0.9" stroke-dasharray="3 1.5"/>
<ellipse cx="1138" cy="323.5" rx="3.9" ry="2.9" fill="none" stroke="#000" stroke-width="1"/>
<line x1="1132.5" y1="316.5" x2="1145.5" y2="329.5" stroke="#000" stroke-width="0.7" />
<line x1="1145.5" y1="316.5" x2="1132.5" y2="329.5" stroke="#000" stroke-width="0.7" />
<rect x="1131" y="332" width="15" height="30" rx="1.5" fill="#fff" stroke="#000" stroke-width="1.2" />
<rect x="1132.5" y="333.5" width="12" height="6" rx="3" fill="#fff" stroke="#000" stroke-width="1" />
<rect x="1095.5" y="396.5" width="13" height="13" fill="#fff" stroke="#000" stroke-width="0.9" stroke-dasharray="3 1.5"/>
<ellipse cx="1101" cy="403.5" rx="3.9" ry="2.9" fill="none" stroke="#000" stroke-width="1"/>
<line x1="1095.5" y1="396.5" x2="1108.5" y2="409.5" stroke="#000" stroke-width="0.7" />
<line x1="1108.5" y1="396.5" x2="1095.5" y2="409.5" stroke="#000" stroke-width="0.7" />
<rect x="1108" y="394" width="39" height="17" rx="1.5" fill="#fff" stroke="#000" stroke-width="1.2" />
<rect x="1109.5" y="395.5" width="6" height="14" rx="3" fill="#fff" stroke="#000" stroke-width="1" />
<rect x="988" y="452" width="37" height="16" rx="1.5" fill="#fff" stroke="#000" stroke-width="1.2" />
<rect x="989.5" y="453.5" width="6" height="13" rx="3" fill="#fff" stroke="#000" stroke-width="1" />
<rect x="988" y="483" width="37" height="16" rx="1.5" fill="#fff" stroke="#000" stroke-width="1.2" />
<rect x="989.5" y="484.5" width="6" height="13" rx="3" fill="#fff" stroke="#000" stroke-width="1" />
<rect x="1051" y="484" width="12" height="12" fill="#fff" stroke="#000" stroke-width="0.9" stroke-dasharray="3 1.5"/>
<ellipse cx="1056" cy="490.5" rx="3.6" ry="2.7" fill="none" stroke="#000" stroke-width="1"/>
<line x1="1051" y1="484" x2="1063" y2="496" stroke="#000" stroke-width="0.7" />
<line x1="1063" y1="484" x2="1051" y2="496" stroke="#000" stroke-width="0.7" />
<rect x="1014" y="730" width="28" height="18" rx="1.5" fill="#fff" stroke="#000" stroke-width="1.2" />
<rect x="1034.5" y="731.5" width="6" height="15" rx="3" fill="#fff" stroke="#000" stroke-width="1" />
<rect x="1043" y="733" width="12" height="12" fill="#fff" stroke="#000" stroke-width="0.9" stroke-dasharray="3 1.5"/>
<ellipse cx="1048" cy="739.5" rx="3.6" ry="2.7" fill="none" stroke="#000" stroke-width="1"/>
<line x1="1043" y1="733" x2="1055" y2="745" stroke="#000" stroke-width="0.7" />
<line x1="1055" y1="733" x2="1043" y2="745" stroke="#000" stroke-width="0.7" />
<rect x="1014" y="784" width="28" height="16" rx="1.5" fill="#fff" stroke="#000" stroke-width="1.2" />
<rect x="1034.5" y="785.5" width="6" height="13" rx="3" fill="#fff" stroke="#000" stroke-width="1" />
<rect x="1043" y="786" width="12" height="12" fill="#fff" stroke="#000" stroke-width="0.9" stroke-dasharray="3 1.5"/>
<ellipse cx="1048" cy="792.5" rx="3.6" ry="2.7" fill="none" stroke="#000" stroke-width="1"/>
<line x1="1043" y1="786" x2="1055" y2="798" stroke="#000" stroke-width="0.7" />
<line x1="1055" y1="786" x2="1043" y2="798" stroke="#000" stroke-width="0.7" />
<rect x="1111.8" y="749.5" width="35.2" height="17.1" rx="1.5" fill="#fff" stroke="#000" stroke-width="1.2" />
<rect x="1113.3" y="751" width="6" height="14.1" rx="3" fill="#fff" stroke="#000" stroke-width="1" />
<rect x="1097.5" y="752" width="12" height="12" fill="#fff" stroke="#000" stroke-width="0.9" stroke-dasharray="3 1.5"/>
<ellipse cx="1102.5" cy="758.5" rx="3.6" ry="2.7" fill="none" stroke="#000" stroke-width="1"/>
<line x1="1097.5" y1="752" x2="1109.5" y2="764" stroke="#000" stroke-width="0.7" />
<line x1="1109.5" y1="752" x2="1097.5" y2="764" stroke="#000" stroke-width="0.7" />
<circle cx="1054" cy="433" r="8" fill="none" stroke="#000" stroke-width="1" />
<circle cx="1054" cy="516" r="10" fill="none" stroke="#000" stroke-width="1" stroke-dasharray="3 2" />
<circle cx="1028" cy="598" r="9" fill="none" stroke="#000" stroke-width="1" />
<circle cx="877" cy="638" r="8" fill="none" stroke="#000" stroke-width="1" />
<circle cx="930" cy="638" r="8" fill="none" stroke="#000" stroke-width="1" stroke-dasharray="3 2" />
<circle cx="1258" cy="638" r="8" fill="none" stroke="#000" stroke-width="1" />
<circle cx="1205" cy="638" r="8" fill="none" stroke="#000" stroke-width="1" stroke-dasharray="3 2" />
<circle cx="890" cy="843" r="8" fill="none" stroke="#000" stroke-width="1" />
<circle cx="944" cy="843" r="8" fill="none" stroke="#000" stroke-width="1" stroke-dasharray="3 2" />
<circle cx="1245" cy="843" r="8" fill="none" stroke="#000" stroke-width="1" />
<circle cx="1191" cy="843" r="8" fill="none" stroke="#000" stroke-width="1" stroke-dasharray="3 2" />
<polygon points="1019,537 1035,537 1037,545 1035,553 1019,553 1017,545" fill="#fff" stroke="#000" stroke-width="1"/>
<circle cx="1027" cy="545" r="6" fill="none" stroke="#000" stroke-width="1.5" />
<polygon points="1019,562 1035,562 1037,570 1035,578 1019,578 1017,570" fill="#fff" stroke="#000" stroke-width="1"/>
<circle cx="1027" cy="570" r="6" fill="none" stroke="#000" stroke-width="1.5" />
<polygon points="1048,537 1064,537 1066,545 1064,553 1048,553 1046,545" fill="#fff" stroke="#000" stroke-width="1"/>
<circle cx="1056" cy="545" r="6" fill="none" stroke="#000" stroke-width="1.5" />
<polygon points="1048,562 1064,562 1066,570 1064,578 1048,578 1046,570" fill="#fff" stroke="#000" stroke-width="1"/>
<circle cx="1056" cy="570" r="6" fill="none" stroke="#000" stroke-width="1.5" />
<polygon points="876,572 886,577 882,585 870,595 858,603 855,606 849,600 858,591 868,583" fill="#fff" stroke="#000" stroke-width="1" />
<polygon points="877,575 882,578 870,589 858,597 853,601 850,598 858,591 868,583" fill="#00ffff" stroke="#000" stroke-width="0.6" />
<polygon points="876,571 887,577 884,580 876,574" fill="#000" stroke="none" stroke-width="1" />
<polygon points="849,599 856,606 853,608 847,601" fill="#000" stroke="none" stroke-width="1" />
<polygon points="1259,572 1249,577 1253,585 1265,595 1277,603 1280,606 1286,600 1277,591 1267,583" fill="#fff" stroke="#000" stroke-width="1" />
<polygon points="1258,575 1253,578 1265,589 1277,597 1282,601 1285,598 1277,591 1267,583" fill="#00ffff" stroke="#000" stroke-width="0.6" />
<polygon points="1259,571 1248,577 1251,580 1259,574" fill="#000" stroke="none" stroke-width="1" />
<polygon points="1286,599 1279,606 1282,608 1288,601" fill="#000" stroke="none" stroke-width="1" />
<text x="1067.5" y="83" font-size="12" font-weight="bold" text-anchor="middle" fill="#000" >1</text>
<text x="1032" y="198" font-size="12" font-weight="bold" text-anchor="middle" fill="#000" >2</text>
<text x="1102" y="198" font-size="12" font-weight="bold" text-anchor="middle" fill="#000" >2</text>
<text x="1031" y="280" font-size="12" font-weight="bold" text-anchor="middle" fill="#000" >3</text>
<text x="1023" y="335" font-size="12" font-weight="bold" text-anchor="middle" fill="#000" >4</text>
<text x="1058" y="335" font-size="12" font-weight="bold" text-anchor="middle" fill="#000" >5</text>
<text x="1108" y="335" font-size="12" font-weight="bold" text-anchor="middle" fill="#000" >6</text>
<text x="1107" y="383" font-size="12" font-weight="bold" text-anchor="middle" fill="#000" >7a</text>
<text x="1055" y="408" font-size="12" font-weight="bold" text-anchor="middle" fill="#000" >7</text>
<text x="1109" y="438" font-size="12" font-weight="bold" text-anchor="middle" fill="#000" >8</text>
<text x="1052" y="470" font-size="12" font-weight="bold" text-anchor="middle" fill="#000" >9</text>
<text x="998" y="522" font-size="12" font-weight="bold" text-anchor="middle" fill="#000" >10</text>
<text x="1027" y="522" font-size="12" font-weight="bold" text-anchor="middle" fill="#000" >11</text>
<text x="1042" y="556" font-size="12" font-weight="bold" text-anchor="middle" fill="#000" >12</text>
<text x="1052" y="603" font-size="12" font-weight="bold" text-anchor="middle" fill="#000" >13</text>
<text x="1026" y="644" font-size="12" font-weight="bold" text-anchor="middle" fill="#000" >13a</text>
<text x="893" y="643" font-size="12" font-weight="bold" text-anchor="middle" fill="#000" >15</text>
<text x="1242" y="643" font-size="12" font-weight="bold" text-anchor="middle" fill="#000" >15</text>
<text x="1080" y="741" font-size="12" font-weight="bold" text-anchor="middle" fill="#000" >16</text>
<text x="998" y="876" font-size="12" font-weight="bold" text-anchor="middle" fill="#000" >17</text>
<text x="1136" y="876" font-size="12" font-weight="bold" text-anchor="middle" fill="#000" >18</text>
<text x="999" y="959" font-size="12" font-weight="bold" text-anchor="middle" fill="#000" >19</text>
<text x="1135" y="959" font-size="12" font-weight="bold" text-anchor="middle" fill="#000" >20</text>
<text x="690" y="662" font-size="12" font-weight="bold" text-anchor="middle" fill="#000" >21</text>
<text x="1415" y="653" font-size="12" font-weight="bold" text-anchor="middle" fill="#000" >22</text>
<text x="858" y="581" font-size="12" font-weight="bold" text-anchor="middle" fill="#000" >14</text>
<text x="1274" y="581" font-size="12" font-weight="bold" text-anchor="middle" fill="#000" >14</text>
<text x="946" y="562" font-size="14" text-anchor="middle" fill="#000" >fuel</text>
<text x="1167" y="568" font-size="14" text-anchor="middle" fill="#000" >fuel</text>
<text x="945" y="744" font-size="14" text-anchor="middle" fill="#000" >fuel</text>
<text x="1210" y="749" font-size="14" text-anchor="middle" fill="#000" >fuel</text>
<text x="677" y="806" font-size="14" text-anchor="middle" fill="#000" >fuel</text>
<text x="1422" y="802" font-size="14" text-anchor="middle" fill="#000" >fuel</text>
<text x="1061" y="912" font-size="14" text-anchor="middle" fill="#000" >fuel</text>
<text x="639.5" y="39.3" font-size="18" font-weight="bold" textLength="362" lengthAdjust="spacingAndGlyphs" fill="#000" >Fiddleback Class Type T Patrol Cruiser</text>
<rect x="639.5" y="41.5" width="362.2" height="2" fill="#000" stroke="none" stroke-width="1" />
<text x="671.4" y="240.4" font-size="15" font-weight="bold" textLength="77.5" lengthAdjust="spacingAndGlyphs" fill="#000" >Main Deck</text>
<text x="671" y="261.7" font-size="12" letter-spacing="0.38">1 bridge</text>
<text x="671" y="277.7" font-size="12" letter-spacing="0.38">2 computer / avionics</text>
<text x="671" y="293.7" font-size="12" letter-spacing="0.38">3 captain's office</text>
<text x="671" y="309.7" font-size="12" letter-spacing="0.38">4 captain's stateroom</text>
<text x="671" y="325.7" font-size="12" letter-spacing="0.38">5 wardroom</text>
<text x="671" y="341.7" font-size="12" letter-spacing="0.38">6 navigator</text>
<text x="671" y="357.7" font-size="12" letter-spacing="0.38">7 crew mess / assembly area</text>
<text x="671" y="373.7" font-size="12" letter-spacing="0.38">7a galley / stores</text>
<text x="671" y="389.7" font-size="12" letter-spacing="0.38">8 medic</text>
<text x="671" y="405.7" font-size="12" letter-spacing="0.38">9 sickbay</text>
<text x="671" y="421.7" font-size="12" letter-spacing="0.38">10 medical locker</text>
<text x="671" y="437.7" font-size="12" letter-spacing="0.38">11 medical airlock</text>
<text x="671" y="453.7" font-size="12" letter-spacing="0.38">12 low berths</text>
<text x="671" y="469.7" font-size="12" letter-spacing="0.38">13 gunner access shaft / airlock</text>
<text x="671" y="485.7" font-size="12" letter-spacing="0.38">13a turret access corridor</text>
<text x="671" y="501.7" font-size="12" letter-spacing="0.38">14 fuel scoops</text>
<text x="671" y="517.7" font-size="12" letter-spacing="0.38">15 turret access &amp; p/s airlocks</text>
<text x="671" y="533.7" font-size="12" letter-spacing="0.38">16 engineer's quarters &amp; lounge</text>
<text x="671" y="549.7" font-size="12" letter-spacing="0.38">17, 18 p/s jump drive engineering</text>
<text x="671" y="565.7" font-size="12" letter-spacing="0.38">19, 20 p/s aft airlocks</text>
<text x="671" y="581.7" font-size="12" letter-spacing="0.38">21, 22 p/s avionics</text>
<text x="1740.5" y="92.6" font-size="15" font-weight="bold" textLength="89.5" lengthAdjust="spacingAndGlyphs" fill="#000" >Lower Deck</text>
<text x="1705.4" y="113.9" font-size="11">1 airlock from boarding ladder/ramp</text>
<text x="1705.4" y="127.9" font-size="11">2 reception area/guard station</text>
<text x="1705.4" y="141.9" font-size="11">3 gunner quarters/lounge</text>
<text x="1705.4" y="155.9" font-size="11">4 marine quarters/common area</text>
<text x="1705.4" y="169.9" font-size="11">5 airlock/gunner accessway to main deck</text>
<text x="1705.4" y="183.9" font-size="11">6 cargo bay</text>
<text x="1705.4" y="197.9" font-size="11">7 equipment locker</text>
<text x="1705.4" y="211.9" font-size="11">8 vehicle bay airlock</text>
<text x="1705.4" y="225.9" font-size="11">9, 11 p/s belly turrets</text>
<text x="1705.4" y="239.9" font-size="11">10, 12 p/s belly turret access</text>
<text x="1705.4" y="253.9" font-size="11">13, 15 lower drive pods</text>
<text x="1705.4" y="267.9" font-size="11">14 vehicle bay</text>
<text x="1705.4" y="281.9" font-size="11">16, 17 p/s drive pod airlocks</text>
<text x="1943.6" y="164" font-size="11">fast launch:</text>
<text x="1943.6" y="177.8" font-size="11">18 airlock</text>
<text x="1943.6" y="191.8" font-size="11">19 bridge</text>
<text x="1943.6" y="205.9" font-size="11">19a stores locker/fresher</text>
<text x="1943.6" y="220" font-size="11">20 passenger/cargo bay</text>
<text x="1943.6" y="234" font-size="11">21 drives</text>
<text x="1943.6" y="254.4" font-size="11">G-carrier:</text>
<text x="1943.6" y="268.7" font-size="11">22 cargo/drives</text>
<text x="1943.6" y="282.5" font-size="11">23 cockpit/passenger area</text>
<text x="226.9" y="689.8" font-size="15" font-weight="bold" textLength="88" lengthAdjust="spacingAndGlyphs" fill="#000" >Upper Deck</text>
<text x="225" y="718.1" font-size="12" letter-spacing="0.4">1 medical airlock</text>
<text x="236.7" y="733.4" font-size="12" letter-spacing="0.4">hatch</text>
<text x="225" y="749.8" font-size="12" letter-spacing="0.4">2 gunner access</text>
<text x="236.7" y="764.6" font-size="12" letter-spacing="0.4">shaft airlock</text>
<text x="235.6" y="778.3" font-size="12" letter-spacing="0.4">hatch</text>
<text x="225" y="798.1" font-size="12" letter-spacing="0.4">3,8 p/s dorsal</text>
<text x="248" y="812.7" font-size="12" letter-spacing="0.4">turrets</text>
<text x="225" y="829.8" font-size="12" letter-spacing="0.4">4, 7 p/s turret</text>
<text x="250.7" y="845.7" font-size="12" letter-spacing="0.4">access</text>
<text x="225" y="861.5" font-size="12" letter-spacing="0.4">5, 9 p/s dorsal</text>
<text x="250.7" y="877.4" font-size="12" letter-spacing="0.4">drive pods</text>
<text x="225" y="893.2" font-size="12" letter-spacing="0.4">6, 10 p/s drive</text>
<text x="258" y="909.1" font-size="12" letter-spacing="0.4">pod airlocks</text>
<text x="225" y="925" font-size="12" letter-spacing="0.4">11, 12 fuel</text>
<text transform="translate(24.3,933.5) rotate(-90)" font-size="11" textLength="101" lengthAdjust="spacingAndGlyphs">© Brook West, 2002</text>
<text transform="translate(38.2,928.5) rotate(-90)" font-size="11" textLength="76.7" lengthAdjust="spacingAndGlyphs">kitsune@sff.net</text>
<text x="133.6" y="83.6" font-size="13" font-weight="bold" textLength="49.4" lengthAdjust="spacingAndGlyphs" fill="#000" >aft view</text>
<text x="323.4" y="83.6" font-size="13" font-weight="bold" textLength="82.6" lengthAdjust="spacingAndGlyphs" fill="#000" >forward view</text>
<text x="50.2" y="362.7" font-size="13" font-weight="bold" textLength="59.3" lengthAdjust="spacingAndGlyphs" fill="#000" >side view</text>
<text x="166.7" y="362.7" font-size="13" font-weight="bold" textLength="76.7" lengthAdjust="spacingAndGlyphs" fill="#000" >bottom view</text>
<text x="272.3" y="362.7" font-size="13" font-weight="bold" textLength="53.3" lengthAdjust="spacingAndGlyphs" fill="#000" >top view</text>
<text x="502.5" y="205" font-size="13" font-weight="bold" text-anchor="middle" textLength="60.3" lengthAdjust="spacingAndGlyphs" fill="#000" >side view</text>
<text x="501.2" y="220.5" font-size="13" font-weight="bold" text-anchor="middle" textLength="108.6" lengthAdjust="spacingAndGlyphs" fill="#000" >landing pads and</text>
<text x="503" y="236.8" font-size="13" font-weight="bold" text-anchor="middle" textLength="164.8" lengthAdjust="spacingAndGlyphs" fill="#000" >boarding ladder extended</text>
<rect x="1329.8" y="41.5" width="250" height="240" fill="#fff" stroke="#000" stroke-width="3.4" />
<text x="1457" y="58.5" font-size="13" font-weight="bold" text-anchor="middle" textLength="122" lengthAdjust="spacingAndGlyphs" fill="#000" >Deck Plan Symbols</text>
<rect x="1396" y="60" width="122" height="1.3" fill="#000" stroke="none" stroke-width="1" />
<text x="1438.5" y="78" font-size="11" text-anchor="middle" fill="#000" >interior wall</text>
<text x="1438.5" y="93" font-size="11" text-anchor="middle" fill="#000" >sliding door</text>
<text x="1438.5" y="111" font-size="11" text-anchor="middle" fill="#000" >bulkhead</text>
<text x="1438.5" y="126.5" font-size="11" text-anchor="middle" fill="#000" >viewport</text>
<text x="1438.5" y="145.7" font-size="11" text-anchor="middle" fill="#000" >manual hatch</text>
<text x="1438.5" y="167.4" font-size="11" text-anchor="middle" fill="#000" >iris valve</text>
<text x="1438.5" y="193.9" font-size="11" text-anchor="middle" fill="#000" >overhead iris</text>
<text x="1438.5" y="227.6" font-size="11" text-anchor="middle" fill="#000" >deck iris</text>
<text x="1438.5" y="260.8" font-size="11" text-anchor="middle" fill="#000" >over &amp; deck iris</text>
<rect x="1335" y="72.6" width="69.5" height="4" fill="#000" stroke="none" stroke-width="1" />
<rect x="1335" y="87.6" width="15.6" height="4" fill="#000" stroke="none" stroke-width="1" />
<rect x="1381" y="87.6" width="23.5" height="4" fill="#000" stroke="none" stroke-width="1" />
<line x1="1350" y1="89.6" x2="1381" y2="89.6" stroke="#000" stroke-width="1" />
<rect x="1335" y="103.8" width="69.5" height="7" fill="#000" stroke="none" stroke-width="1" />
<rect x="1336" y="120" width="68" height="7" fill="#000" stroke="none" stroke-width="1" />
<rect x="1353.7" y="121" width="31.3" height="5" fill="#00ffff" stroke="none" stroke-width="1" />
<line x1="1355" y1="123.5" x2="1385" y2="123.5" stroke="#000" stroke-width="0.8" stroke-dasharray="4 3" />
<line x1="1356.5" y1="142.4" x2="1385.7" y2="142.4" stroke="#000" stroke-width="1" />
<path d="M1355.5,138 Q1357,139 1356.8,141 L1356.8,145 Q1356.5,147 1355.5,148.5" fill="none" stroke="#000" stroke-width="1.1" />
<path d="M1386.7,137.5 Q1385,139 1385.5,141 L1385.5,145 Q1385,147 1386.7,148.5" fill="none" stroke="#000" stroke-width="1.1" />
<rect x="1367" y="138.8" width="8" height="2" fill="#000" stroke="none" stroke-width="1" />
<rect x="1370" y="139" width="2" height="6.5" fill="#000" stroke="none" stroke-width="1" />
<rect x="1367" y="145" width="8" height="1" fill="#000" stroke="none" stroke-width="1" />
<path d="M1354,159.5 L1356,159.5 L1360,161 L1365.5,162 L1368,163.3 L1371,163.3 L1373.5,162 L1379,161 L1383,159.5 L1385,159.5 L1379.5,163 L1379.5,166 L1384.5,169.2 L1382,169.5 L1378,167.5 L1373,166.5 L1371,165.2 L1368,165.2 L1366,166.5 L1361,167.5 L1357,169.5 L1354,169.2 L1359.5,166 L1359.5,163 Z" fill="#000" stroke="none" stroke-width="1" />
<circle cx="1369.3" cy="189.5" r="14.3" fill="none" stroke="#000" stroke-width="1" stroke-dasharray="5 4" />
<circle cx="1369.3" cy="223.2" r="14" fill="none" stroke="#000" stroke-width="1" />
<circle cx="1369.3" cy="257" r="14" fill="none" stroke="#000" stroke-width="1" />
<circle cx="1369.3" cy="257" r="10.5" fill="none" stroke="#000" stroke-width="1" stroke-dasharray="4 3" />
<rect x="1481" y="72" width="24" height="24" fill="#fff" stroke="#000" stroke-width="1" stroke-dasharray="4 2"/>
<ellipse cx="1491" cy="85" rx="7" ry="5.5" fill="none" stroke="#000" stroke-width="1.1"/>
<line x1="1481" y1="72" x2="1505" y2="96" stroke="#000" stroke-width="0.8" />
<line x1="1505" y1="72" x2="1481" y2="96" stroke="#000" stroke-width="0.8" />
<text x="1540" y="88.3" font-size="11" text-anchor="middle" fill="#000" >fresher</text>
<rect x="1474.5" y="103.5" width="36" height="18" rx="2" fill="#fff" stroke="#000" stroke-width="1.2" />
<rect x="1475.5" y="104.5" width="7" height="16" rx="3.5" fill="#fff" stroke="#000" stroke-width="1" />
<text x="1540.4" y="115.6" font-size="11" text-anchor="middle" fill="#000" >bed</text>
<rect x="1483" y="129.5" width="18.5" height="18.5" rx="3" fill="#fff" stroke="#000" stroke-width="1.2" />
<line x1="1494" y1="131" x2="1494" y2="146" stroke="#000" stroke-width="1" />
<line x1="1498" y1="131" x2="1498" y2="146" stroke="#000" stroke-width="1" />
<text x="1540" y="136.3" font-size="11" text-anchor="middle" fill="#000" >acceleration</text>
<text x="1540" y="146.7" font-size="11" text-anchor="middle" fill="#000" >couch</text>
<rect x="1481.5" y="156.5" width="22" height="22" fill="#fff" stroke="#000" stroke-width="1" />
<line x1="1481.5" y1="162" x2="1503.5" y2="162" stroke="#000" stroke-width="1" />
<line x1="1481.5" y1="167.5" x2="1503.5" y2="167.5" stroke="#000" stroke-width="1" />
<line x1="1481.5" y1="173" x2="1503.5" y2="173" stroke="#000" stroke-width="1" />
<text x="1537.8" y="170.6" font-size="11" text-anchor="middle" fill="#000" >ladder/stairs</text>
<polyline points="1505.5,234 1505.5,226.5 1550.5,226.5 1550.5,234" fill="none" stroke="#ff9999" stroke-width="1.6" />
<polyline points="1505.5,263 1505.5,271.5 1550.5,271.5 1550.5,263" fill="none" stroke="#ff9999" stroke-width="1.6" />
<text x="1528.8" y="245.8" font-size="11" font-weight="bold" text-anchor="middle" textLength="51" lengthAdjust="spacingAndGlyphs" fill="#000" >1.5 meter</text>
<text x="1528.8" y="259.5" font-size="11" font-weight="bold" text-anchor="middle" textLength="45" lengthAdjust="spacingAndGlyphs" fill="#000" >squares</text>
<path d="M1399,319.5 Q1403,320 1403,324 L1404,327 Q1406,329 1406.5,336 L1406,338 L1404,338 L1403,345 L1404,352 L1401,352 L1400,342 L1399,346 L1397,353 L1394,352 L1396,345 L1395,338 L1393,337 L1392.5,330 L1395,326 Q1395,320 1399,319.5 Z" fill="#fff" stroke="#000" stroke-width="1" />
<line x1="1399" y1="326" x2="1400" y2="342" stroke="#000" stroke-width="0.8" />
<circle cx="1399.5" cy="323.5" r="1.5" fill="#000" stroke="none" stroke-width="1" />
<rect x="1421" y="331" width="92" height="7" fill="#000" stroke="none" stroke-width="1" />
<rect x="1440.5" y="332.5" width="17.5" height="4" fill="#fff" stroke="none" stroke-width="1" />
<rect x="1477" y="332.5" width="17" height="4" fill="#fff" stroke="none" stroke-width="1" />
<text x="1421.5" y="327" font-size="10.5" text-anchor="middle" fill="#000" >0</text>
<text x="1439.6" y="327" font-size="10.5" text-anchor="middle" fill="#000" >1</text>
<text x="1458.4" y="327" font-size="10.5" text-anchor="middle" fill="#000" >2</text>
<text x="1476.6" y="327" font-size="10.5" text-anchor="middle" fill="#000" >3</text>
<text x="1493.6" y="327" font-size="10.5" text-anchor="middle" fill="#000" >4</text>
<text x="1512.4" y="327" font-size="10.5" text-anchor="middle" fill="#000" >5</text>
<text x="1467" y="350.9" font-size="10.5" text-anchor="middle" textLength="72" lengthAdjust="spacingAndGlyphs" fill="#000" >scale in meters</text>
<g transform="translate(137,0)">
<path d="M-55.3,653 Q-67,668 -69.3,700 L-69.3,994 L69.3,994 L69.3,700 Q67,668 55.3,653 Z" fill="#fff"/>
<clipPath id="cu1"><path d="M-55.3,653 Q-67,668 -69.3,700 L-69.3,994 L69.3,994 L69.3,700 Q67,668 55.3,653 Z"/><path d="M-12,653 L-12,640 A12,12 0 0 1 12,640 L12,653 Z"/></clipPath>
<path d="M-81.5 600V1000M-54.5 600V1000M-26.5 600V1000M0.5 600V1000M27.5 600V1000M55.5 600V1000M82.5 600V1000M-75 612.5H75M-75 639.5H75M-75 666.5H75M-75 693.5H75M-75 721.5H75M-75 748.5H75M-75 775.5H75M-75 803.5H75M-75 830.5H75M-75 857.5H75M-75 884.5H75M-75 912.5H75M-75 939.5H75M-75 966.5H75M-75 994.5H75" stroke="#ff9966" stroke-width="1" clip-path="url(#cu1)"/>
<polygon points="-45.5,667.6 -13.6,667.6 -13.6,672 -4.9,679.6 -4.9,697.2 -9.7,697.2 -9.7,712.6 0,712.6 0,717 -9.7,717 -9.7,721 0,721 0,726 -9.7,726 -9.7,730 0,730 0,734.5 -9.7,734.5 -9.7,752 -4.9,757.6 -4.9,777.3 -9.7,781.7 -9.7,818 -4.9,818 -4.9,844.3 -36.7,844.3 -36.7,854.2 -40,858.1 -48.8,858.1 -54.3,853 -54.3,818 -49.9,818 -49.9,781.7 -54.7,777.3 -54.7,757.6 -49.9,752 -49.9,734.5 -59.7,734.5 -59.7,730 -49.9,730 -49.9,726 -59.7,726 -59.7,721 -49.9,721 -49.9,717 -59.7,717 -59.7,712.6 -49.9,712.6 -49.9,697.2 -54.7,697.2 -54.7,679.6 -45.5,672" fill="#ffcc99" stroke="#000" stroke-width="1" />
<polygon points="36.4,667.6 45.2,667.6 45.2,671 54.4,679.6 54.4,697.2 50,697.2 50,712.6 54.4,712.6 54.4,717 50,717 50,721 54.4,721 54.4,726 50,726 50,730 54.4,730 54.4,734.5 50,734.5 50,752 54.4,757.6 54.4,781 50,788.3 50,825.6 54.4,825.6 54.4,853 41.2,853 41.2,839.9 27,839.9 27,825.6 31.4,825.6 31.4,788.3 27,784 27,757.6 31.4,752 31.4,734.5 27,734.5 27,730 31.4,730 31.4,726 27,726 27,721 31.4,721 31.4,717 27,717 27,712.6 31.4,712.6 31.4,697.2 27,697.2 27,679.6 36.4,671" fill="#ffcc99" stroke="#000" stroke-width="1" />
<polygon points="-23.8,858.8 -3.9,858.8 0.1,861.5 0.1,877.5 4.1,880.7 50.4,880.7 53.9,883.9 53.9,908.6 50.4,911.8 50.4,931 53.9,931 53.9,943 50.4,944.5 50.4,950 53.9,953.3 53.9,967.7 41.6,967.7 41.6,970.9 44.8,970.9 44.8,977.3 41.6,981.3 51.2,990.8 4.1,990.8 12.1,981.3 9.7,977.3 9.7,970.9 12.9,967.7 3.3,967.7 3.3,953.3 9.7,950 9.7,944.5 3.3,943 3.3,931 13.7,931 13.7,911 10.7,908.6 -10.5,908.6 -13.5,911 -13.5,931 -3.1,931 -3.1,943 -9.5,944.5 -9.5,950 -3.1,953.3 -3.1,967.7 -12.7,967.7 -9.5,970.9 -9.5,977.3 -11.9,981.3 -3.9,990.8 -51,990.8 -41.4,981.3 -44.6,977.3 -44.6,970.9 -41.4,970.9 -41.4,967.7 -53.7,967.7 -53.7,953.3 -50.2,950 -50.2,944.5 -53.7,943 -53.7,931 -50.2,931 -50.2,911.8 -53.7,908.6 -53.7,883.9 -50.2,880.7 -31,880.7 -27,877.5 -27,861.5" fill="#ffcc99" stroke="#000" stroke-width="1" />
<path d="M-55.3,653 Q-37,636 -33.5,624 Q-30.5,612 -29.5,603 Q-26.5,584 0,583 Q26.5,584 29.5,603 Q30.5,612 33.5,624 Q37,636 55.3,653 Z" fill="#00ffff" stroke="#000" stroke-width="4" />
<path d="M-13.8,655 L-13.8,640 A13.8,13.8 0 0 1 13.8,640 L13.8,655 Z" fill="#fff" stroke="#000" stroke-width="4" />
<rect x="-11.8" y="641" width="23.6" height="15" fill="#fff" stroke="none" stroke-width="1" />
<path d="M0.5,628V656M-11.8,638.5H11.8" stroke="#ff9966" stroke-width="1"/>
<circle cx="0" cy="638" r="8" fill="none" stroke="#000" stroke-width="1" stroke-dasharray="2.5 1.5" />
<path d="M-55.3,653 Q-67,668 -69.3,700 L-69.3,994 L69.3,994 L69.3,700 Q67,668 55.3,653" fill="none" stroke="#000" stroke-width="4.5" />
<line x1="-69.3" y1="994" x2="69.3" y2="994" stroke="#000" stroke-width="4.5" />
<circle cx="13" cy="843" r="8" fill="none" stroke="#000" stroke-width="1" />
<rect x="44" y="855" width="27" height="4" fill="#000" stroke="none" stroke-width="1" />
<rect x="44" y="873" width="27" height="4" fill="#000" stroke="none" stroke-width="1" />
<rect x="67" y="857" width="4.5" height="18" fill="#fff" stroke="none" stroke-width="1" />
</g>
<g transform="translate(410,0) scale(-1,1)">
<path d="M-55.3,653 Q-67,668 -69.3,700 L-69.3,994 L69.3,994 L69.3,700 Q67,668 55.3,653 Z" fill="#fff"/>
<clipPath id="cu2"><path d="M-55.3,653 Q-67,668 -69.3,700 L-69.3,994 L69.3,994 L69.3,700 Q67,668 55.3,653 Z"/><path d="M-12,653 L-12,640 A12,12 0 0 1 12,640 L12,653 Z"/></clipPath>
<path d="M-82.5 600V1000M-55.5 600V1000M-27.5 600V1000M-0.5 600V1000M26.5 600V1000M54.5 600V1000M81.5 600V1000M-75 612.5H75M-75 639.5H75M-75 666.5H75M-75 693.5H75M-75 721.5H75M-75 748.5H75M-75 775.5H75M-75 803.5H75M-75 830.5H75M-75 857.5H75M-75 884.5H75M-75 912.5H75M-75 939.5H75M-75 966.5H75M-75 994.5H75" stroke="#ff9966" stroke-width="1" clip-path="url(#cu2)"/>
<polygon points="-45.5,667.6 -13.6,667.6 -13.6,672 -4.9,679.6 -4.9,697.2 -9.7,697.2 -9.7,712.6 0,712.6 0,717 -9.7,717 -9.7,721 0,721 0,726 -9.7,726 -9.7,730 0,730 0,734.5 -9.7,734.5 -9.7,752 -4.9,757.6 -4.9,777.3 -9.7,781.7 -9.7,818 -4.9,818 -4.9,844.3 -36.7,844.3 -36.7,854.2 -40,858.1 -48.8,858.1 -54.3,853 -54.3,818 -49.9,818 -49.9,781.7 -54.7,777.3 -54.7,757.6 -49.9,752 -49.9,734.5 -59.7,734.5 -59.7,730 -49.9,730 -49.9,726 -59.7,726 -59.7,721 -49.9,721 -49.9,717 -59.7,717 -59.7,712.6 -49.9,712.6 -49.9,697.2 -54.7,697.2 -54.7,679.6 -45.5,672" fill="#ffcc99" stroke="#000" stroke-width="1" />
<polygon points="36.4,667.6 45.2,667.6 45.2,671 54.4,679.6 54.4,697.2 50,697.2 50,712.6 54.4,712.6 54.4,717 50,717 50,721 54.4,721 54.4,726 50,726 50,730 54.4,730 54.4,734.5 50,734.5 50,752 54.4,757.6 54.4,781 50,788.3 50,825.6 54.4,825.6 54.4,853 41.2,853 41.2,839.9 27,839.9 27,825.6 31.4,825.6 31.4,788.3 27,784 27,757.6 31.4,752 31.4,734.5 27,734.5 27,730 31.4,730 31.4,726 27,726 27,721 31.4,721 31.4,717 27,717 27,712.6 31.4,712.6 31.4,697.2 27,697.2 27,679.6 36.4,671" fill="#ffcc99" stroke="#000" stroke-width="1" />
<polygon points="-23.8,858.8 -3.9,858.8 0.1,861.5 0.1,877.5 4.1,880.7 50.4,880.7 53.9,883.9 53.9,908.6 50.4,911.8 50.4,931 53.9,931 53.9,943 50.4,944.5 50.4,950 53.9,953.3 53.9,967.7 41.6,967.7 41.6,970.9 44.8,970.9 44.8,977.3 41.6,981.3 51.2,990.8 4.1,990.8 12.1,981.3 9.7,977.3 9.7,970.9 12.9,967.7 3.3,967.7 3.3,953.3 9.7,950 9.7,944.5 3.3,943 3.3,931 13.7,931 13.7,911 10.7,908.6 -10.5,908.6 -13.5,911 -13.5,931 -3.1,931 -3.1,943 -9.5,944.5 -9.5,950 -3.1,953.3 -3.1,967.7 -12.7,967.7 -9.5,970.9 -9.5,977.3 -11.9,981.3 -3.9,990.8 -51,990.8 -41.4,981.3 -44.6,977.3 -44.6,970.9 -41.4,970.9 -41.4,967.7 -53.7,967.7 -53.7,953.3 -50.2,950 -50.2,944.5 -53.7,943 -53.7,931 -50.2,931 -50.2,911.8 -53.7,908.6 -53.7,883.9 -50.2,880.7 -31,880.7 -27,877.5 -27,861.5" fill="#ffcc99" stroke="#000" stroke-width="1" />
<path d="M-55.3,653 Q-37,636 -33.5,624 Q-30.5,612 -29.5,603 Q-26.5,584 0,583 Q26.5,584 29.5,603 Q30.5,612 33.5,624 Q37,636 55.3,653 Z" fill="#00ffff" stroke="#000" stroke-width="4" />
<path d="M-13.8,655 L-13.8,640 A13.8,13.8 0 0 1 13.8,640 L13.8,655 Z" fill="#fff" stroke="#000" stroke-width="4" />
<rect x="-11.8" y="641" width="23.6" height="15" fill="#fff" stroke="none" stroke-width="1" />
<path d="M-0.5,628V656M-11.8,638.5H11.8" stroke="#ff9966" stroke-width="1"/>
<circle cx="0" cy="638" r="8" fill="none" stroke="#000" stroke-width="1" stroke-dasharray="2.5 1.5" />
<path d="M-55.3,653 Q-67,668 -69.3,700 L-69.3,994 L69.3,994 L69.3,700 Q67,668 55.3,653" fill="none" stroke="#000" stroke-width="4.5" />
<line x1="-69.3" y1="994" x2="69.3" y2="994" stroke="#000" stroke-width="4.5" />
<circle cx="13" cy="843" r="8" fill="none" stroke="#000" stroke-width="1" />
<rect x="44" y="855" width="27" height="4" fill="#000" stroke="none" stroke-width="1" />
<rect x="44" y="873" width="27" height="4" fill="#000" stroke="none" stroke-width="1" />
<rect x="67" y="857" width="4.5" height="18" fill="#fff" stroke="none" stroke-width="1" />
</g>
<text x="137.3" y="613" font-size="14" font-weight="bold" text-anchor="middle" fill="#000" >11</text>
<text x="410.3" y="613" font-size="14" font-weight="bold" text-anchor="middle" fill="#000" >12</text>
<text x="136.5" y="664" font-size="12" font-weight="bold" text-anchor="middle" fill="#000" >4</text>
<text x="410.5" y="664" font-size="12" font-weight="bold" text-anchor="middle" fill="#000" >7</text>
<text x="150" y="795" font-size="12" font-weight="bold" text-anchor="middle" fill="#000" >5</text>
<text x="398" y="793" font-size="12" font-weight="bold" text-anchor="middle" fill="#000" >9</text>
<text x="197" y="871" font-size="12" font-weight="bold" text-anchor="middle" fill="#000" >6</text>
<text x="355" y="871" font-size="12" font-weight="bold" text-anchor="middle" fill="#000" >10</text>
<rect x="181.5" y="857" width="5" height="18" fill="#fff" stroke="none" stroke-width="1" />
<path d="M181 857L181 861L183.4 866L181 871L181 875L187 875L187 871L184.6 866L187 861L187 857Z" fill="#000"/>
<circle cx="184" cy="860.5" r="1.3" fill="#fff" stroke="none" stroke-width="1" />
<circle cx="184" cy="871.5" r="1.3" fill="#fff" stroke="none" stroke-width="1" />
<rect x="202.5" y="857" width="5" height="18" fill="#fff" stroke="none" stroke-width="1" />
<path d="M202 857L202 861L204.4 866L202 871L202 875L208 875L208 871L205.6 866L208 861L208 857Z" fill="#000"/>
<circle cx="205" cy="860.5" r="1.3" fill="#fff" stroke="none" stroke-width="1" />
<circle cx="205" cy="871.5" r="1.3" fill="#fff" stroke="none" stroke-width="1" />
<rect x="339.5" y="857" width="5" height="18" fill="#fff" stroke="none" stroke-width="1" />
<path d="M339 857L339 861L341.4 866L339 871L339 875L345 875L345 871L342.6 866L345 861L345 857Z" fill="#000"/>
<circle cx="342" cy="860.5" r="1.3" fill="#fff" stroke="none" stroke-width="1" />
<circle cx="342" cy="871.5" r="1.3" fill="#fff" stroke="none" stroke-width="1" />
<rect x="360.5" y="857" width="5" height="18" fill="#fff" stroke="none" stroke-width="1" />
<path d="M360 857L360 861L362.4 866L360 871L360 875L366 875L366 871L363.6 866L366 861L366 857Z" fill="#000"/>
<circle cx="363" cy="860.5" r="1.3" fill="#fff" stroke="none" stroke-width="1" />
<circle cx="363" cy="871.5" r="1.3" fill="#fff" stroke="none" stroke-width="1" />
<path d="M30.8,526.4 L42.8,526.4 Q47.1,526.4 54.1,535.4 L54.1,574.6 Q47.1,583.6 42.8,583.6 L30.8,583.6 Q26.4,583.6 19.4,574.6 L19.4,535.4 Q26.4,526.4 30.8,526.4 Z" fill="#ffffcc" stroke="#000" stroke-width="4.8" />
<path d="M27.4,582.1 L27.4,557.4 Q27.4,548.4 36.8,548.4 Q46,548.4 46,557.4 L46,582.1 Z" fill="#fff" stroke="#000" stroke-width="1" />
<path d="M37.2,549.4V582.1M28.8,575.1H44.8" stroke="#ff9966" stroke-width="1"/>
<circle cx="36.8" cy="575.1" r="7.6" fill="none" stroke="#000" stroke-width="1" />
<path d="M31.2,563.4 L31.2,554.4 Q31.2,551.4 36.8,551.4 Q42.2,551.4 42.2,554.4 L42.2,563.4 Z M33.2,554.4V560.9H40.2V554.4" fill="none" stroke="#000" stroke-width="1.1"/>
<text x="36.8" y="543.4" font-size="12" font-weight="bold" text-anchor="middle" fill="#000" >3</text>
<path d="M513.8,590.9 L525.8,590.9 Q530.1,590.9 537.1,599.9 L537.1,637.6 Q530.1,646.6 525.8,646.6 L513.8,646.6 Q509.4,646.6 502.4,637.6 L502.4,599.9 Q509.4,590.9 513.8,590.9 Z" fill="#ffffcc" stroke="#000" stroke-width="4.8" />
<path d="M510.4,645.1 L510.4,621.9 Q510.4,612.9 519.8,612.9 Q529,612.9 529,621.9 L529,645.1 Z" fill="#fff" stroke="#000" stroke-width="1" />
<path d="M520.2,613.9V645.1M511.8,638.1H527.8" stroke="#ff9966" stroke-width="1"/>
<circle cx="519.8" cy="638.1" r="7.6" fill="none" stroke="#000" stroke-width="1" />
<path d="M514.2,627.9 L514.2,618.9 Q514.2,615.9 519.8,615.9 Q525.2,615.9 525.2,618.9 L525.2,627.9 Z M516.2,618.9V625.4H523.2V618.9" fill="none" stroke="#000" stroke-width="1.1"/>
<text x="519.8" y="607.9" font-size="12" font-weight="bold" text-anchor="middle" fill="#000" >8</text>
<line x1="58" y1="567" x2="124" y2="627" stroke="#000" stroke-width="1" />
<polygon points="124,627 115.9,624 120.2,619.3" fill="#000" stroke="none" stroke-width="1" />
<line x1="498" y1="640" x2="432" y2="640" stroke="#000" stroke-width="1" />
<polygon points="432,640 440,636.8 440,643.2" fill="#000" stroke="none" stroke-width="1" />
<path d="M99.7,481 L91.6,505 L86.2,534.7 L82.2,559 L82.2,653" fill="none" stroke="#000" stroke-width="3" stroke-dasharray="9 7.5"/>
<path d="M66,591.3 L12,607.4" fill="none" stroke="#000" stroke-width="3" stroke-dasharray="9 7.5"/>
<path d="M448,483.5 L456,507 L461.3,535 L464,559 L464,653" fill="none" stroke="#000" stroke-width="3" stroke-dasharray="9 7.5"/>
<path d="M481,588.5 Q487,591 495,594" fill="none" stroke="#000" stroke-width="3" stroke-dasharray="9 7.5"/>
<path d="M540,608 L546,610" fill="none" stroke="#000" stroke-width="3" stroke-dasharray="8 6"/>
<circle cx="259.5" cy="517" r="7" fill="none" stroke="#000" stroke-width="1.2" />
<text x="259.5" y="521.5" font-size="11" text-anchor="middle" fill="#000" >1</text>
<circle cx="232" cy="599" r="7" fill="none" stroke="#000" stroke-width="1.2" />
<text x="232" y="603.5" font-size="11" text-anchor="middle" fill="#000" >2</text>
<path d="M14,962 L68,966.5" fill="none" stroke="#000" stroke-width="3" stroke-dasharray="9 10"/>
<path d="M14,962 L14,994.5 L68,994.5" fill="none" stroke="#000" stroke-width="3" stroke-dasharray="9 10"/>
<path d="M206,967.4 L342,967.4" fill="none" stroke="#000" stroke-width="3" stroke-dasharray="11 11"/>
<path d="M206,994.5 L342,994.5" fill="none" stroke="#000" stroke-width="3" stroke-dasharray="11 11"/>
<path d="M479,966.5 L534,961.5 L534,994.5 L479,994.5" fill="none" stroke="#000" stroke-width="3" stroke-dasharray="9 10"/>
<path d="M809.5,992 L1326.5,992" fill="none" stroke="#000" stroke-width="3" stroke-dasharray="11 10"/>
<path d="M809.5,974 L809.5,993.5" fill="none" stroke="#000" stroke-width="3" stroke-dasharray="7.6 4.4"/>
<path d="M864.5,974 L864.5,993.5" fill="none" stroke="#000" stroke-width="3" stroke-dasharray="7.6 4.4"/>
<path d="M948.3,974 L948.3,993.5" fill="none" stroke="#000" stroke-width="3" stroke-dasharray="7.6 4.4"/>
<path d="M1001.5,974 L1001.5,993.5" fill="none" stroke="#000" stroke-width="3" stroke-dasharray="7.6 4.4"/>
<path d="M1134.3,974 L1134.3,993.5" fill="none" stroke="#000" stroke-width="3" stroke-dasharray="7.6 4.4"/>
<path d="M1187,974 L1187,993.5" fill="none" stroke="#000" stroke-width="3" stroke-dasharray="7.6 4.4"/>
<path d="M1270.7,974 L1270.7,993.5" fill="none" stroke="#000" stroke-width="3" stroke-dasharray="7.6 4.4"/>
<path d="M1326.4,974 L1326.4,993.5" fill="none" stroke="#000" stroke-width="3" stroke-dasharray="7.6 4.4"/>
<line x1="545" y1="993" x2="801" y2="993" stroke="#ffd0d0" stroke-width="1" />
<line x1="1335" y1="993" x2="1626" y2="993" stroke="#ffd0d0" stroke-width="1" />
<path d="M1787.8,387 Q1788,367 1808,366.8 L1985,366.8 Q2005.5,367 2005.7,387 L2005.7,640 L2019.5,700 L2019.5,995 L1773.5,995 L1773.5,700 L1787.8,640 Z" fill="#fff"/>
<clipPath id="ldc"><path d="M1787.8,387 Q1788,367 1808,366.8 L1985,366.8 Q2005.5,367 2005.7,387 L2005.7,640 L2019.5,700 L2019.5,995 L1773.5,995 L1773.5,700 L1787.8,640 Z"/></clipPath>
<path d="M1787.5 360V1000M1814.5 360V1000M1841.5 360V1000M1869.5 360V1000M1896.5 360V1000M1923.5 360V1000M1951.5 360V1000M1978.5 360V1000M2005.5 360V1000M1770 366.5H2025M1770 393.5H2025M1770 420.5H2025M1770 448.5H2025M1770 475.5H2025M1770 502.5H2025M1770 530.5H2025M1770 557.5H2025M1770 584.5H2025M1770 612.5H2025M1770 639.5H2025M1770 666.5H2025M1770 693.5H2025M1770 721.5H2025M1770 748.5H2025M1770 775.5H2025M1770 803.5H2025M1770 830.5H2025M1770 857.5H2025M1770 884.5H2025M1770 912.5H2025M1770 939.5H2025M1770 966.5H2025M1770 994.5H2025" stroke="#ff9966" stroke-width="1" clip-path="url(#ldc)"/>
<path d="M1787.8,387 Q1788,367 1808,366.8 L1896,366.8 L1896,421 L1869,421 L1869,475 L1787.8,475 Z" fill="#00ffff" stroke="none" stroke-width="1" />
<path d="M1924,366.8 L1985,366.8 Q2005.5,367 2005.7,387 L2005.7,475 L1924,475 Z" fill="#00ffff" stroke="none" stroke-width="1" />
<rect x="1898.5" y="369" width="23.5" height="50" fill="#fff" stroke="none" stroke-width="1" />
<line x1="1898.5" y1="369.5" x2="1922" y2="369.5" stroke="#000" stroke-width="1.2" />
<line x1="1898.5" y1="375.5" x2="1922" y2="375.5" stroke="#000" stroke-width="1.2" />
<line x1="1898.5" y1="381.5" x2="1922" y2="381.5" stroke="#000" stroke-width="1.2" />
<line x1="1898.5" y1="387.5" x2="1922" y2="387.5" stroke="#000" stroke-width="1.2" />
<line x1="1898.5" y1="393.5" x2="1922" y2="393.5" stroke="#000" stroke-width="1.2" />
<line x1="1898.5" y1="399.5" x2="1922" y2="399.5" stroke="#000" stroke-width="1.2" />
<line x1="1898.5" y1="405.5" x2="1922" y2="405.5" stroke="#000" stroke-width="1.2" />
<line x1="1898.5" y1="411.5" x2="1922" y2="411.5" stroke="#000" stroke-width="1.2" />
<line x1="1898.5" y1="417.5" x2="1922" y2="417.5" stroke="#000" stroke-width="1.2" />
<path d="M1882,772 L1882,766 A62,56 0 0 1 2006,766 L2006,772 Z" fill="#ffffcc" stroke="none" stroke-width="1" />
<path d="M1915.6,770.3 Q1911,760 1912.3,752.7 Q1914,744 1922.2,739 L1938.1,739 L1943.6,745 L1948.6,738.4 L1966.1,738.4 Q1974,744 1976,755 Q1976,762 1971.6,770.3 Z" fill="#fff" stroke="#000" stroke-width="1" />
<path d="M1796.3,820 L1861.3,820 L1870.6,847.8 L1870.6,934.5 L1864.4,953 L1858.2,985.6 L1801,985.6 L1791.7,953 L1785.5,934.5 L1785.5,847.8 Z" fill="#fff"/>
<path d="M1793,953 L1863,953 L1857.5,984 L1801.5,984 Z" fill="#ffffcc" stroke="none" stroke-width="1" />
<path d="M1788,847 L1795,838 L1795,869 L1788,869 Z" fill="#ffcc99" stroke="none" stroke-width="1" />
<path d="M1868,847 L1861,838 L1861,869 L1868,869 Z" fill="#ffcc99" stroke="none" stroke-width="1" />
<rect x="1884" y="891" width="52" height="16" fill="#00ffff" stroke="none" stroke-width="1" />
<path d="M1954,888 L1962,888 L1962,893 L2004,893 L2004,907 L1954,907 Z" fill="#00ffff" stroke="none" stroke-width="1" />
<polygon points="1896.9,912 1923.6,912 1923.6,915.9 1928.3,920.6 1933.5,920.6 1933.5,924 1928.8,924 1928.8,929.8 1933.5,929.8 1933.5,933.7 1928.3,934.2 1923.6,938.4 1918.9,938.4 1912,934.2 1906.3,934.2 1905.8,937.9 1899.5,938.4 1892.7,933.7 1887.6,933.7 1887.6,929.8 1892.7,929.8 1892.7,924 1887.6,924 1887.6,920.6 1892.7,920.6 1896.9,915.9" fill="#ffcc99" stroke="#000" stroke-width="0.9" />
<polygon points="1991.1,912 1964.4,912 1964.4,915.9 1959.7,920.6 1954.5,920.6 1954.5,924 1959.2,924 1959.2,929.8 1954.5,929.8 1954.5,933.7 1959.7,934.2 1964.4,938.4 1969.1,938.4 1976,934.2 1981.7,934.2 1982.2,937.9 1988.5,938.4 1995.3,933.7 2000.4,933.7 2000.4,929.8 1995.3,929.8 1995.3,924 2000.4,924 2000.4,920.6 1995.3,920.6 1991.1,915.9" fill="#ffcc99" stroke="#000" stroke-width="0.9" />
<polygon points="1892.7,943.1 1905.8,943.1 1910,946.8 1911,943.7 1919.4,943.1 1924.1,946.8 1928.8,947.9 1928.8,956.2 1924.1,960.4 1919.4,962 1921,966.2 1924.1,968.8 1928.8,970.9 1928.8,975.6 1919.4,975.6 1922,981.9 1893.7,981.9 1896.9,975.6 1887.6,975.6 1887.6,970.9 1892.7,970.9 1892.7,960.4 1887.6,956.2 1887.6,947.9" fill="#ffcc99" stroke="#000" stroke-width="0.9" />
<polygon points="1995.3,943.1 1982.2,943.1 1978.1,946.8 1977,943.7 1968.6,943.1 1963.9,946.8 1959.2,947.9 1959.2,956.2 1963.9,960.4 1968.6,962 1967.1,966.2 1963.9,968.8 1959.2,970.9 1959.2,975.6 1968.6,975.6 1966,981.9 1994.3,981.9 1991.1,975.6 2000.4,975.6 2000.4,970.9 1995.3,970.9 1995.3,960.4 2000.4,956.2 2000.4,947.9" fill="#ffcc99" stroke="#000" stroke-width="0.9" />
<path d="M1787.8,387 Q1788,367 1808,366.8 L1985,366.8 Q2005.5,367 2005.7,387 L2005.7,640 L2019.5,700 L2019.5,995 L1773.5,995 L1773.5,700 L1787.8,640 Z" fill="none" stroke="#000" stroke-width="4.5" />
<rect x="1894" y="366" width="5" height="55" fill="#000" stroke="none" stroke-width="1" />
<rect x="1921.5" y="366" width="4.5" height="110" fill="#000" stroke="none" stroke-width="1" />
<rect x="1867.3" y="419.5" width="31.7" height="3.5" fill="#000" stroke="none" stroke-width="1" />
<rect x="1867.3" y="419.5" width="4.2" height="84.5" fill="#000" stroke="none" stroke-width="1" />
<rect x="1921.5" y="476" width="4" height="28" fill="#000" stroke="none" stroke-width="1" />
<rect x="1787" y="473" width="84" height="5" fill="#000" stroke="none" stroke-width="1" />
<rect x="1921.5" y="473" width="84.5" height="5" fill="#000" stroke="none" stroke-width="1" />
<rect x="1867.3" y="500.5" width="58.2" height="4" fill="#000" stroke="none" stroke-width="1" />
<rect x="1894" y="502" width="4" height="84.5" fill="#000" stroke="none" stroke-width="1" />
<rect x="1787" y="583.5" width="111" height="3.5" fill="#000" stroke="none" stroke-width="1" />
<line x1="1951" y1="585" x2="2006" y2="585" stroke="#000" stroke-width="2" />
<line x1="1842.3" y1="478" x2="1842.3" y2="584" stroke="#000" stroke-width="2" stroke-dasharray="8 4" />
<line x1="1951.3" y1="478" x2="1951.3" y2="662" stroke="#000" stroke-width="2" stroke-dasharray="8 4" />
<rect x="1841" y="584" width="3.5" height="29" fill="#000" stroke="none" stroke-width="1" />
<rect x="1841" y="610" width="30" height="3.5" fill="#000" stroke="none" stroke-width="1" />
<rect x="1867.5" y="584" width="3.5" height="116" fill="#000" stroke="none" stroke-width="1" />
<rect x="1867.5" y="665" width="86.5" height="3.5" fill="#000" stroke="none" stroke-width="1" />
<rect x="1950.5" y="665" width="3.5" height="30" fill="#000" stroke="none" stroke-width="1" />
<rect x="1922.6" y="665" width="3.4" height="30" fill="#000" stroke="none" stroke-width="1" />
<rect x="1867.5" y="691.5" width="150.5" height="3.5" fill="#000" stroke="none" stroke-width="1" />
<path d="M1870,693 L1870,721 L1855,775" fill="none" stroke="#000" stroke-width="4" />
<rect x="1776" y="773.6" width="55" height="3.7" fill="#000" stroke="none" stroke-width="1" />
<path d="M1882,800 L1882,766 A62,56 0 0 1 2006,766 L2006,982" fill="none" stroke="#000" stroke-width="4.2" />
<rect x="1882" y="770" width="35" height="4.2" fill="#000" stroke="none" stroke-width="1" />
<rect x="1970.6" y="770" width="35.4" height="4.2" fill="#000" stroke="none" stroke-width="1" />
<rect x="1915.5" y="772" width="3.1" height="28.8" fill="#000" stroke="none" stroke-width="1" />
<rect x="1882" y="796.8" width="36.6" height="4" fill="#000" stroke="none" stroke-width="1" />
<rect x="1969.5" y="772" width="3" height="28.8" fill="#000" stroke="none" stroke-width="1" />
<rect x="1969.5" y="796.8" width="36.5" height="4" fill="#000" stroke="none" stroke-width="1" />
<rect x="1880" y="804.5" width="4" height="179.5" fill="#000" stroke="none" stroke-width="1" />
<rect x="1880" y="888" width="58" height="4.7" fill="#000" stroke="none" stroke-width="1" />
<rect x="1952" y="888" width="54" height="4.7" fill="#000" stroke="none" stroke-width="1" />
<path d="M1954,888 L1954,893 L1962,893 L1962,888" fill="none" stroke="#000" stroke-width="1" />
<rect x="1935" y="888" width="3" height="21" fill="#000" stroke="none" stroke-width="1" />
<rect x="1952" y="888" width="3" height="21" fill="#000" stroke="none" stroke-width="1" />
<rect x="1880" y="906" width="58" height="3.5" fill="#000" stroke="none" stroke-width="1" />
<rect x="1952" y="906" width="54" height="3.5" fill="#000" stroke="none" stroke-width="1" />
<rect x="1880" y="981" width="128" height="4.5" fill="#000" stroke="none" stroke-width="1" />
<path d="M1796.3,820 L1861.3,820 L1870.6,847.8 L1870.6,934.5 L1864.4,953 L1858.2,985.6 L1801,985.6 L1791.7,953 L1785.5,934.5 L1785.5,847.8 Z" fill="none" stroke="#000" stroke-width="3.5" />
<rect x="1794" y="829" width="3" height="40" fill="#000" stroke="none" stroke-width="1" />
<rect x="1859.5" y="829" width="3" height="40" fill="#000" stroke="none" stroke-width="1" />
<g transform="translate(1798.5,878) rotate(0)" fill="none" stroke="#000" stroke-width="1.1"><path d="M-6.2,6 L-6.2,-2.2 Q-6.2,-6 -2.5,-6 L2.5,-6 Q6.2,-6 6.2,-2.2 L6.2,6 Z" fill="#fff"/><rect x="-6.2" y="-3" width="2.5" height="7.5"/><rect x="3.8" y="-3" width="2.5" height="7.5"/><path d="M-3.8,2.6H3.8M-3.8,4.6H3.8"/></g>
<g transform="translate(1813,878) rotate(0)" fill="none" stroke="#000" stroke-width="1.1"><path d="M-6.2,6 L-6.2,-2.2 Q-6.2,-6 -2.5,-6 L2.5,-6 Q6.2,-6 6.2,-2.2 L6.2,6 Z" fill="#fff"/><rect x="-6.2" y="-3" width="2.5" height="7.5"/><rect x="3.8" y="-3" width="2.5" height="7.5"/><path d="M-3.8,2.6H3.8M-3.8,4.6H3.8"/></g>
<g transform="translate(1844,878) rotate(0)" fill="none" stroke="#000" stroke-width="1.1"><path d="M-6.2,6 L-6.2,-2.2 Q-6.2,-6 -2.5,-6 L2.5,-6 Q6.2,-6 6.2,-2.2 L6.2,6 Z" fill="#fff"/><rect x="-6.2" y="-3" width="2.5" height="7.5"/><rect x="3.8" y="-3" width="2.5" height="7.5"/><path d="M-3.8,2.6H3.8M-3.8,4.6H3.8"/></g>
<g transform="translate(1858.5,878) rotate(0)" fill="none" stroke="#000" stroke-width="1.1"><path d="M-6.2,6 L-6.2,-2.2 Q-6.2,-6 -2.5,-6 L2.5,-6 Q6.2,-6 6.2,-2.2 L6.2,6 Z" fill="#fff"/><rect x="-6.2" y="-3" width="2.5" height="7.5"/><rect x="3.8" y="-3" width="2.5" height="7.5"/><path d="M-3.8,2.6H3.8M-3.8,4.6H3.8"/></g>
<g transform="translate(1798.5,898) rotate(0)" fill="none" stroke="#000" stroke-width="1.1"><path d="M-6.2,6 L-6.2,-2.2 Q-6.2,-6 -2.5,-6 L2.5,-6 Q6.2,-6 6.2,-2.2 L6.2,6 Z" fill="#fff"/><rect x="-6.2" y="-3" width="2.5" height="7.5"/><rect x="3.8" y="-3" width="2.5" height="7.5"/><path d="M-3.8,2.6H3.8M-3.8,4.6H3.8"/></g>
<g transform="translate(1813,898) rotate(0)" fill="none" stroke="#000" stroke-width="1.1"><path d="M-6.2,6 L-6.2,-2.2 Q-6.2,-6 -2.5,-6 L2.5,-6 Q6.2,-6 6.2,-2.2 L6.2,6 Z" fill="#fff"/><rect x="-6.2" y="-3" width="2.5" height="7.5"/><rect x="3.8" y="-3" width="2.5" height="7.5"/><path d="M-3.8,2.6H3.8M-3.8,4.6H3.8"/></g>
<g transform="translate(1844,898) rotate(0)" fill="none" stroke="#000" stroke-width="1.1"><path d="M-6.2,6 L-6.2,-2.2 Q-6.2,-6 -2.5,-6 L2.5,-6 Q6.2,-6 6.2,-2.2 L6.2,6 Z" fill="#fff"/><rect x="-6.2" y="-3" width="2.5" height="7.5"/><rect x="3.8" y="-3" width="2.5" height="7.5"/><path d="M-3.8,2.6H3.8M-3.8,4.6H3.8"/></g>
<g transform="translate(1858.5,898) rotate(0)" fill="none" stroke="#000" stroke-width="1.1"><path d="M-6.2,6 L-6.2,-2.2 Q-6.2,-6 -2.5,-6 L2.5,-6 Q6.2,-6 6.2,-2.2 L6.2,6 Z" fill="#fff"/><rect x="-6.2" y="-3" width="2.5" height="7.5"/><rect x="3.8" y="-3" width="2.5" height="7.5"/><path d="M-3.8,2.6H3.8M-3.8,4.6H3.8"/></g>
<g transform="translate(1798.5,918) rotate(0)" fill="none" stroke="#000" stroke-width="1.1"><path d="M-6.2,6 L-6.2,-2.2 Q-6.2,-6 -2.5,-6 L2.5,-6 Q6.2,-6 6.2,-2.2 L6.2,6 Z" fill="#fff"/><rect x="-6.2" y="-3" width="2.5" height="7.5"/><rect x="3.8" y="-3" width="2.5" height="7.5"/><path d="M-3.8,2.6H3.8M-3.8,4.6H3.8"/></g>
<g transform="translate(1813,918) rotate(0)" fill="none" stroke="#000" stroke-width="1.1"><path d="M-6.2,6 L-6.2,-2.2 Q-6.2,-6 -2.5,-6 L2.5,-6 Q6.2,-6 6.2,-2.2 L6.2,6 Z" fill="#fff"/><rect x="-6.2" y="-3" width="2.5" height="7.5"/><rect x="3.8" y="-3" width="2.5" height="7.5"/><path d="M-3.8,2.6H3.8M-3.8,4.6H3.8"/></g>
<g transform="translate(1844,918) rotate(0)" fill="none" stroke="#000" stroke-width="1.1"><path d="M-6.2,6 L-6.2,-2.2 Q-6.2,-6 -2.5,-6 L2.5,-6 Q6.2,-6 6.2,-2.2 L6.2,6 Z" fill="#fff"/><rect x="-6.2" y="-3" width="2.5" height="7.5"/><rect x="3.8" y="-3" width="2.5" height="7.5"/><path d="M-3.8,2.6H3.8M-3.8,4.6H3.8"/></g>
<g transform="translate(1858.5,918) rotate(0)" fill="none" stroke="#000" stroke-width="1.1"><path d="M-6.2,6 L-6.2,-2.2 Q-6.2,-6 -2.5,-6 L2.5,-6 Q6.2,-6 6.2,-2.2 L6.2,6 Z" fill="#fff"/><rect x="-6.2" y="-3" width="2.5" height="7.5"/><rect x="3.8" y="-3" width="2.5" height="7.5"/><path d="M-3.8,2.6H3.8M-3.8,4.6H3.8"/></g>
<g transform="translate(1816,964) rotate(0)" fill="none" stroke="#000" stroke-width="1.1"><path d="M-7.5,7 L-7.5,-2.5 Q-7.5,-7 -3,-7 L3,-7 Q7.5,-7 7.5,-2.5 L7.5,7 Z" fill="#fff"/><rect x="-7.5" y="-3.4" width="2.7" height="8.9"/><rect x="4.8" y="-3.4" width="2.7" height="8.9"/><path d="M-4.8,3.1H4.8M-4.8,5.3H4.8"/></g>
<g transform="translate(1843,964) rotate(0)" fill="none" stroke="#000" stroke-width="1.1"><path d="M-7.5,7 L-7.5,-2.5 Q-7.5,-7 -3,-7 L3,-7 Q7.5,-7 7.5,-2.5 L7.5,7 Z" fill="#fff"/><rect x="-7.5" y="-3.4" width="2.7" height="8.9"/><rect x="4.8" y="-3.4" width="2.7" height="8.9"/><path d="M-4.8,3.1H4.8M-4.8,5.3H4.8"/></g>
<g transform="translate(1974.5,815) rotate(0)" fill="none" stroke="#000" stroke-width="1.1"><path d="M-8.5,7.5 L-8.5,-2.5 Q-8.5,-7.5 -3.5,-7.5 L3.5,-7.5 Q8.5,-7.5 8.5,-2.5 L8.5,7.5 Z" fill="#fff"/><rect x="-8.5" y="-3.5" width="3.1" height="9.5"/><rect x="5.4" y="-3.5" width="3.1" height="9.5"/><path d="M-5.4,3.3H5.4M-5.4,5.7H5.4"/></g>
<g transform="translate(1993.5,815) rotate(0)" fill="none" stroke="#000" stroke-width="1.1"><path d="M-8.5,7.5 L-8.5,-2.5 Q-8.5,-7.5 -3.5,-7.5 L3.5,-7.5 Q8.5,-7.5 8.5,-2.5 L8.5,7.5 Z" fill="#fff"/><rect x="-8.5" y="-3.5" width="3.1" height="9.5"/><rect x="5.4" y="-3.5" width="3.1" height="9.5"/><path d="M-5.4,3.3H5.4M-5.4,5.7H5.4"/></g>
<g transform="translate(1974.5,838.5) rotate(0)" fill="none" stroke="#000" stroke-width="1.1"><path d="M-8.5,7.5 L-8.5,-2.5 Q-8.5,-7.5 -3.5,-7.5 L3.5,-7.5 Q8.5,-7.5 8.5,-2.5 L8.5,7.5 Z" fill="#fff"/><rect x="-8.5" y="-3.5" width="3.1" height="9.5"/><rect x="5.4" y="-3.5" width="3.1" height="9.5"/><path d="M-5.4,3.3H5.4M-5.4,5.7H5.4"/></g>
<g transform="translate(1993.5,838.5) rotate(0)" fill="none" stroke="#000" stroke-width="1.1"><path d="M-8.5,7.5 L-8.5,-2.5 Q-8.5,-7.5 -3.5,-7.5 L3.5,-7.5 Q8.5,-7.5 8.5,-2.5 L8.5,7.5 Z" fill="#fff"/><rect x="-8.5" y="-3.5" width="3.1" height="9.5"/><rect x="5.4" y="-3.5" width="3.1" height="9.5"/><path d="M-5.4,3.3H5.4M-5.4,5.7H5.4"/></g>
<g transform="translate(1974.5,860) rotate(0)" fill="none" stroke="#000" stroke-width="1.1"><path d="M-8.5,7.5 L-8.5,-2.5 Q-8.5,-7.5 -3.5,-7.5 L3.5,-7.5 Q8.5,-7.5 8.5,-2.5 L8.5,7.5 Z" fill="#fff"/><rect x="-8.5" y="-3.5" width="3.1" height="9.5"/><rect x="5.4" y="-3.5" width="3.1" height="9.5"/><path d="M-5.4,3.3H5.4M-5.4,5.7H5.4"/></g>
<g transform="translate(1993.5,860) rotate(0)" fill="none" stroke="#000" stroke-width="1.1"><path d="M-8.5,7.5 L-8.5,-2.5 Q-8.5,-7.5 -3.5,-7.5 L3.5,-7.5 Q8.5,-7.5 8.5,-2.5 L8.5,7.5 Z" fill="#fff"/><rect x="-8.5" y="-3.5" width="3.1" height="9.5"/><rect x="5.4" y="-3.5" width="3.1" height="9.5"/><path d="M-5.4,3.3H5.4M-5.4,5.7H5.4"/></g>
<g transform="translate(1974.5,883) rotate(0)" fill="none" stroke="#000" stroke-width="1.1"><path d="M-8.5,7.5 L-8.5,-2.5 Q-8.5,-7.5 -3.5,-7.5 L3.5,-7.5 Q8.5,-7.5 8.5,-2.5 L8.5,7.5 Z" fill="#fff"/><rect x="-8.5" y="-3.5" width="3.1" height="9.5"/><rect x="5.4" y="-3.5" width="3.1" height="9.5"/><path d="M-5.4,3.3H5.4M-5.4,5.7H5.4"/></g>
<g transform="translate(1993.5,883) rotate(0)" fill="none" stroke="#000" stroke-width="1.1"><path d="M-8.5,7.5 L-8.5,-2.5 Q-8.5,-7.5 -3.5,-7.5 L3.5,-7.5 Q8.5,-7.5 8.5,-2.5 L8.5,7.5 Z" fill="#fff"/><rect x="-8.5" y="-3.5" width="3.1" height="9.5"/><rect x="5.4" y="-3.5" width="3.1" height="9.5"/><path d="M-5.4,3.3H5.4M-5.4,5.7H5.4"/></g>
<g transform="translate(1929.3,758.7) rotate(0)" fill="none" stroke="#000" stroke-width="1.1"><path d="M-9,8.5 L-9,-3.5 Q-9,-8.5 -4,-8.5 L4,-8.5 Q9,-8.5 9,-3.5 L9,8.5 Z" fill="#fff"/><rect x="-9" y="-4.5" width="3.2" height="11.5"/><rect x="5.8" y="-4.5" width="3.2" height="11.5"/><path d="M-5.8,3.7H5.8M-5.8,6.5H5.8"/></g>
<g transform="translate(1958.4,758.7) rotate(0)" fill="none" stroke="#000" stroke-width="1.1"><path d="M-9,8.5 L-9,-3.5 Q-9,-8.5 -4,-8.5 L4,-8.5 Q9,-8.5 9,-3.5 L9,8.5 Z" fill="#fff"/><rect x="-9" y="-4.5" width="3.2" height="11.5"/><rect x="5.8" y="-4.5" width="3.2" height="11.5"/><path d="M-5.8,3.7H5.8M-5.8,6.5H5.8"/></g>
<rect x="1790" y="510" width="35" height="19" rx="1.5" fill="#fff" stroke="#000" stroke-width="1.2" />
<rect x="1791.5" y="511.5" width="6" height="16" rx="3" fill="#fff" stroke="#000" stroke-width="1" />
<rect x="1790" y="531" width="35" height="18" rx="1.5" fill="#fff" stroke="#000" stroke-width="1.2" />
<rect x="1817.5" y="532.5" width="6" height="15" rx="3" fill="#fff" stroke="#000" stroke-width="1" />
<rect x="1827.5" y="514.5" width="13" height="13" fill="#fff" stroke="#000" stroke-width="0.9" stroke-dasharray="3 1.5"/>
<ellipse cx="1833" cy="521.5" rx="3.9" ry="2.9" fill="none" stroke="#000" stroke-width="1"/>
<line x1="1827.5" y1="514.5" x2="1840.5" y2="527.5" stroke="#000" stroke-width="0.7" />
<line x1="1840.5" y1="514.5" x2="1827.5" y2="527.5" stroke="#000" stroke-width="0.7" />
<rect x="1827.5" y="531.5" width="13" height="13" fill="#fff" stroke="#000" stroke-width="0.9" stroke-dasharray="3 1.5"/>
<ellipse cx="1833" cy="538.5" rx="3.9" ry="2.9" fill="none" stroke="#000" stroke-width="1"/>
<line x1="1827.5" y1="531.5" x2="1840.5" y2="544.5" stroke="#000" stroke-width="0.7" />
<line x1="1840.5" y1="531.5" x2="1827.5" y2="544.5" stroke="#000" stroke-width="0.7" />
<rect x="1968" y="510" width="37" height="19" rx="1.5" fill="#fff" stroke="#000" stroke-width="1.2" />
<rect x="1969.5" y="511.5" width="6" height="16" rx="3" fill="#fff" stroke="#000" stroke-width="1" />
<rect x="1968" y="531" width="37" height="18" rx="1.5" fill="#fff" stroke="#000" stroke-width="1.2" />
<rect x="1997.5" y="532.5" width="6" height="15" rx="3" fill="#fff" stroke="#000" stroke-width="1" />
<rect x="1952.5" y="514.5" width="13" height="13" fill="#fff" stroke="#000" stroke-width="0.9" stroke-dasharray="3 1.5"/>
<ellipse cx="1958" cy="521.5" rx="3.9" ry="2.9" fill="none" stroke="#000" stroke-width="1"/>
<line x1="1952.5" y1="514.5" x2="1965.5" y2="527.5" stroke="#000" stroke-width="0.7" />
<line x1="1965.5" y1="514.5" x2="1952.5" y2="527.5" stroke="#000" stroke-width="0.7" />
<rect x="1952.5" y="531.5" width="13" height="13" fill="#fff" stroke="#000" stroke-width="0.9" stroke-dasharray="3 1.5"/>
<ellipse cx="1958" cy="538.5" rx="3.9" ry="2.9" fill="none" stroke="#000" stroke-width="1"/>
<line x1="1952.5" y1="531.5" x2="1965.5" y2="544.5" stroke="#000" stroke-width="0.7" />
<line x1="1965.5" y1="531.5" x2="1952.5" y2="544.5" stroke="#000" stroke-width="0.7" />
<rect x="1968" y="621" width="37" height="19" rx="1.5" fill="#fff" stroke="#000" stroke-width="1.2" />
<rect x="1969.5" y="622.5" width="6" height="16" rx="3" fill="#fff" stroke="#000" stroke-width="1" />
<rect x="1952.5" y="625.5" width="13" height="13" fill="#fff" stroke="#000" stroke-width="0.9" stroke-dasharray="3 1.5"/>
<ellipse cx="1958" cy="632.5" rx="3.9" ry="2.9" fill="none" stroke="#000" stroke-width="1"/>
<line x1="1952.5" y1="625.5" x2="1965.5" y2="638.5" stroke="#000" stroke-width="0.7" />
<line x1="1965.5" y1="625.5" x2="1952.5" y2="638.5" stroke="#000" stroke-width="0.7" />
<rect x="1955" y="674" width="35" height="18" rx="1.5" fill="#fff" stroke="#000" stroke-width="1.2" />
<rect x="1956.5" y="675.5" width="6" height="15" rx="3" fill="#fff" stroke="#000" stroke-width="1" />
<rect x="1991" y="677" width="12" height="12" fill="#fff" stroke="#000" stroke-width="0.9" stroke-dasharray="3 1.5"/>
<ellipse cx="1996" cy="683.5" rx="3.6" ry="2.7" fill="none" stroke="#000" stroke-width="1"/>
<line x1="1991" y1="677" x2="2003" y2="689" stroke="#000" stroke-width="0.7" />
<line x1="2003" y1="677" x2="1991" y2="689" stroke="#000" stroke-width="0.7" />
<rect x="1980.5" y="781.5" width="13" height="13" fill="#fff" stroke="#000" stroke-width="0.9" stroke-dasharray="3 1.5"/>
<ellipse cx="1986" cy="788.5" rx="3.9" ry="2.9" fill="none" stroke="#000" stroke-width="1"/>
<line x1="1980.5" y1="781.5" x2="1993.5" y2="794.5" stroke="#000" stroke-width="0.7" />
<line x1="1993.5" y1="781.5" x2="1980.5" y2="794.5" stroke="#000" stroke-width="0.7" />
<circle cx="1883" cy="433" r="8.5" fill="none" stroke="#000" stroke-width="1" stroke-dasharray="3 2.5" />
<circle cx="1855" cy="598.5" r="9" fill="none" stroke="#000" stroke-width="1.2" />
<circle cx="1855" cy="598.5" r="7" fill="none" stroke="#000" stroke-width="1" stroke-dasharray="2 1.5" />
<text x="1855" y="603" font-size="11" text-anchor="middle" fill="#000" >5</text>
<rect x="1898.5" y="418.5" width="23.5" height="5" fill="#fff" stroke="none" stroke-width="1" />
<path d="M1898.5 418L1902.5 418L1910.2 420.4L1918 418L1922 418L1922 424L1918 424L1910.2 421.6L1902.5 424L1898.5 424Z" fill="#000"/>
<circle cx="1902" cy="421" r="1.3" fill="#fff" stroke="none" stroke-width="1" />
<circle cx="1918.5" cy="421" r="1.3" fill="#fff" stroke="none" stroke-width="1" />
<rect x="1898.5" y="454.5" width="23.5" height="5" fill="#fff" stroke="none" stroke-width="1" />
<path d="M1898.5 454L1902.5 454L1910.2 456.4L1918 454L1922 454L1922 460L1918 460L1910.2 457.6L1902.5 460L1898.5 460Z" fill="#000"/>
<circle cx="1902" cy="457" r="1.3" fill="#fff" stroke="none" stroke-width="1" />
<circle cx="1918.5" cy="457" r="1.3" fill="#fff" stroke="none" stroke-width="1" />
<rect x="1867" y="478" width="5" height="24" fill="#fff" stroke="none" stroke-width="1" />
<path d="M1866.5 478L1866.5 482L1868.9 490L1866.5 498L1866.5 502L1872.5 502L1872.5 498L1870.1 490L1872.5 482L1872.5 478Z" fill="#000"/>
<circle cx="1869.5" cy="481.5" r="1.3" fill="#fff" stroke="none" stroke-width="1" />
<circle cx="1869.5" cy="498.5" r="1.3" fill="#fff" stroke="none" stroke-width="1" />
<rect x="1921" y="478" width="5" height="24" fill="#fff" stroke="none" stroke-width="1" />
<path d="M1920.5 478L1920.5 482L1922.9 490L1920.5 498L1920.5 502L1926.5 502L1926.5 498L1924.1 490L1926.5 482L1926.5 478Z" fill="#000"/>
<circle cx="1923.5" cy="481.5" r="1.3" fill="#fff" stroke="none" stroke-width="1" />
<circle cx="1923.5" cy="498.5" r="1.3" fill="#fff" stroke="none" stroke-width="1" />
<rect x="1844" y="582.5" width="22" height="5" fill="#fff" stroke="none" stroke-width="1" />
<path d="M1844 582L1848 582L1855 584.4L1862 582L1866 582L1866 588L1862 588L1855 585.6L1848 588L1844 588Z" fill="#000"/>
<circle cx="1847.5" cy="585" r="1.3" fill="#fff" stroke="none" stroke-width="1" />
<circle cx="1862.5" cy="585" r="1.3" fill="#fff" stroke="none" stroke-width="1" />
<rect x="1844" y="609.5" width="22" height="5" fill="#fff" stroke="none" stroke-width="1" />
<path d="M1844 609L1848 609L1855 611.4L1862 609L1866 609L1866 615L1862 615L1855 612.6L1848 615L1844 615Z" fill="#000"/>
<circle cx="1847.5" cy="612" r="1.3" fill="#fff" stroke="none" stroke-width="1" />
<circle cx="1862.5" cy="612" r="1.3" fill="#fff" stroke="none" stroke-width="1" />
<rect x="1866.5" y="587" width="5" height="23" fill="#fff" stroke="none" stroke-width="1" />
<path d="M1866 587L1866 591L1868.4 598.5L1866 606L1866 610L1872 610L1872 606L1869.6 598.5L1872 591L1872 587Z" fill="#000"/>
<circle cx="1869" cy="590.5" r="1.3" fill="#fff" stroke="none" stroke-width="1" />
<circle cx="1869" cy="606.5" r="1.3" fill="#fff" stroke="none" stroke-width="1" />
<rect x="1877" y="664" width="23" height="5" fill="#fff" stroke="none" stroke-width="1" />
<path d="M1877 663.5L1881 663.5L1888.5 665.9L1896 663.5L1900 663.5L1900 669.5L1896 669.5L1888.5 667.1L1881 669.5L1877 669.5Z" fill="#000"/>
<circle cx="1880.5" cy="666.5" r="1.3" fill="#fff" stroke="none" stroke-width="1" />
<circle cx="1896.5" cy="666.5" r="1.3" fill="#fff" stroke="none" stroke-width="1" />
<rect x="1927" y="664" width="23" height="5" fill="#fff" stroke="none" stroke-width="1" />
<path d="M1927 663.5L1931 663.5L1938.5 665.9L1946 663.5L1950 663.5L1950 669.5L1946 669.5L1938.5 667.1L1931 669.5L1927 669.5Z" fill="#000"/>
<circle cx="1930.5" cy="666.5" r="1.3" fill="#fff" stroke="none" stroke-width="1" />
<circle cx="1946.5" cy="666.5" r="1.3" fill="#fff" stroke="none" stroke-width="1" />
<rect x="1927" y="690.5" width="23" height="5" fill="#fff" stroke="none" stroke-width="1" />
<path d="M1927 690L1931 690L1938.5 692.4L1946 690L1950 690L1950 696L1946 696L1938.5 693.6L1931 696L1927 696Z" fill="#000"/>
<circle cx="1930.5" cy="693" r="1.3" fill="#fff" stroke="none" stroke-width="1" />
<circle cx="1946.5" cy="693" r="1.3" fill="#fff" stroke="none" stroke-width="1" />
<rect x="1833" y="773" width="22" height="5" fill="#fff" stroke="none" stroke-width="1" />
<path d="M1833 772.5L1837 772.5L1844 774.9L1851 772.5L1855 772.5L1855 778.5L1851 778.5L1844 776.1L1837 778.5L1833 778.5Z" fill="#000"/>
<circle cx="1836.5" cy="775.5" r="1.3" fill="#fff" stroke="none" stroke-width="1" />
<circle cx="1851.5" cy="775.5" r="1.3" fill="#fff" stroke="none" stroke-width="1" />
<rect x="1879.5" y="776" width="5" height="21" fill="#fff" stroke="none" stroke-width="1" />
<path d="M1879 776L1879 780L1881.4 786.5L1879 793L1879 797L1885 797L1885 793L1882.6 786.5L1885 780L1885 776Z" fill="#000"/>
<circle cx="1882" cy="779.5" r="1.3" fill="#fff" stroke="none" stroke-width="1" />
<circle cx="1882" cy="793.5" r="1.3" fill="#fff" stroke="none" stroke-width="1" />
<rect x="1914.5" y="776" width="5" height="21" fill="#fff" stroke="none" stroke-width="1" />
<path d="M1914 776L1914 780L1916.4 786.5L1914 793L1914 797L1920 797L1920 793L1917.6 786.5L1920 780L1920 776Z" fill="#000"/>
<circle cx="1917" cy="779.5" r="1.3" fill="#fff" stroke="none" stroke-width="1" />
<circle cx="1917" cy="793.5" r="1.3" fill="#fff" stroke="none" stroke-width="1" />
<rect x="1968.1" y="776" width="5" height="21" fill="#fff" stroke="none" stroke-width="1" />
<path d="M1967.6 776L1967.6 780L1970 786.5L1967.6 793L1967.6 797L1973.6 797L1973.6 793L1971.2 786.5L1973.6 780L1973.6 776Z" fill="#000"/>
<circle cx="1970.6" cy="779.5" r="1.3" fill="#fff" stroke="none" stroke-width="1" />
<circle cx="1970.6" cy="793.5" r="1.3" fill="#fff" stroke="none" stroke-width="1" />
<rect x="1938" y="887.5" width="15" height="5" fill="#fff" stroke="none" stroke-width="1" />
<path d="M1938 887L1942 887L1945.5 889.4L1949 887L1953 887L1953 893L1949 893L1945.5 890.6L1942 893L1938 893Z" fill="#000"/>
<circle cx="1941.5" cy="890" r="1.3" fill="#fff" stroke="none" stroke-width="1" />
<circle cx="1949.5" cy="890" r="1.3" fill="#fff" stroke="none" stroke-width="1" />
<rect x="1938" y="905.5" width="15" height="5" fill="#fff" stroke="none" stroke-width="1" />
<path d="M1938 905L1942 905L1945.5 907.4L1949 905L1953 905L1953 911L1949 911L1945.5 908.6L1942 911L1938 911Z" fill="#000"/>
<circle cx="1941.5" cy="908" r="1.3" fill="#fff" stroke="none" stroke-width="1" />
<circle cx="1949.5" cy="908" r="1.3" fill="#fff" stroke="none" stroke-width="1" />
<rect x="1935" y="979.5" width="23" height="5" fill="#fff" stroke="none" stroke-width="1" />
<path d="M1935 979L1939 979L1946.5 981.4L1954 979L1958 979L1958 985L1954 985L1946.5 982.6L1939 985L1935 985Z" fill="#000"/>
<circle cx="1938.5" cy="982" r="1.3" fill="#fff" stroke="none" stroke-width="1" />
<circle cx="1954.5" cy="982" r="1.3" fill="#fff" stroke="none" stroke-width="1" />
<text x="1908" y="441" font-size="12" font-weight="bold" text-anchor="middle" fill="#000" >1</text>
<text x="1881" y="466" font-size="12" font-weight="bold" text-anchor="middle" fill="#000" >2</text>
<text x="1857" y="546" font-size="12" font-weight="bold" text-anchor="middle" fill="#000" >3</text>
<text x="1933" y="551" font-size="12" font-weight="bold" text-anchor="middle" fill="#000" >4</text>
<text x="1826" y="657" font-size="12" font-weight="bold" text-anchor="middle" fill="#000" >6</text>
<text x="1910" y="686" font-size="12" font-weight="bold" text-anchor="middle" fill="#000" >7</text>
<text x="1937" y="684" font-size="12" font-weight="bold" text-anchor="middle" fill="#000" >8</text>
<text x="1855" y="803" font-size="12" font-weight="bold" text-anchor="middle" fill="#000" >14</text>
<text x="1937" y="778.5" font-size="12" font-weight="bold" text-anchor="middle" fill="#000" >19</text>
<text x="1904.6" y="792" font-size="12" font-weight="bold" text-anchor="middle" fill="#000" >18</text>
<text x="1956.8" y="793" font-size="12" font-weight="bold" text-anchor="middle" fill="#000" >19a</text>
<text x="1937" y="850" font-size="12" font-weight="bold" text-anchor="middle" fill="#000" >20</text>
<text x="1942" y="957" font-size="12" font-weight="bold" text-anchor="middle" fill="#000" >21</text>
<text x="1827" y="846" font-size="12" font-weight="bold" text-anchor="middle" fill="#000" >22</text>
<text x="1829" y="936" font-size="12" font-weight="bold" text-anchor="middle" fill="#000" >23</text>
<text x="1832" y="419" font-size="14" text-anchor="middle" fill="#000" >fuel</text>
<text x="1964" y="421" font-size="14" text-anchor="middle" fill="#000" >fuel</text>
<text x="1908" y="906" font-size="13" text-anchor="middle" fill="#000" >fuel</text>
<g transform="translate(1705,0)">
<path d="M-55.3,653 Q-67,668 -69.3,700 L-69.3,994 L69.3,994 L69.3,700 Q67,668 55.3,653 Z" fill="#fff"/>
<clipPath id="cl1"><path d="M-55.3,653 Q-67,668 -69.3,700 L-69.3,994 L69.3,994 L69.3,700 Q67,668 55.3,653 Z"/><path d="M-12,653 L-12,640 A12,12 0 0 1 12,640 L12,653 Z"/></clipPath>
<path d="M-81.5 600V1000M-54.5 600V1000M-26.5 600V1000M0.5 600V1000M27.5 600V1000M55.5 600V1000M82.5 600V1000M-75 612.5H75M-75 639.5H75M-75 666.5H75M-75 693.5H75M-75 721.5H75M-75 748.5H75M-75 775.5H75M-75 803.5H75M-75 830.5H75M-75 857.5H75M-75 884.5H75M-75 912.5H75M-75 939.5H75M-75 966.5H75M-75 994.5H75" stroke="#ff9966" stroke-width="1" clip-path="url(#cl1)"/>
<polygon points="-45.5,667.6 -13.6,667.6 -13.6,672 -4.9,679.6 -4.9,697.2 -9.7,697.2 -9.7,712.6 0,712.6 0,717 -9.7,717 -9.7,721 0,721 0,726 -9.7,726 -9.7,730 0,730 0,734.5 -9.7,734.5 -9.7,752 -4.9,757.6 -4.9,777.3 -9.7,781.7 -9.7,818 -4.9,818 -4.9,844.3 -36.7,844.3 -36.7,854.2 -40,858.1 -48.8,858.1 -54.3,853 -54.3,818 -49.9,818 -49.9,781.7 -54.7,777.3 -54.7,757.6 -49.9,752 -49.9,734.5 -59.7,734.5 -59.7,730 -49.9,730 -49.9,726 -59.7,726 -59.7,721 -49.9,721 -49.9,717 -59.7,717 -59.7,712.6 -49.9,712.6 -49.9,697.2 -54.7,697.2 -54.7,679.6 -45.5,672" fill="#ffcc99" stroke="#000" stroke-width="1" />
<polygon points="36.4,667.6 45.2,667.6 45.2,671 54.4,679.6 54.4,697.2 50,697.2 50,712.6 54.4,712.6 54.4,717 50,717 50,721 54.4,721 54.4,726 50,726 50,730 54.4,730 54.4,734.5 50,734.5 50,752 54.4,757.6 54.4,781 50,788.3 50,825.6 54.4,825.6 54.4,853 41.2,853 41.2,839.9 27,839.9 27,825.6 31.4,825.6 31.4,788.3 27,784 27,757.6 31.4,752 31.4,734.5 27,734.5 27,730 31.4,730 31.4,726 27,726 27,721 31.4,721 31.4,717 27,717 27,712.6 31.4,712.6 31.4,697.2 27,697.2 27,679.6 36.4,671" fill="#ffcc99" stroke="#000" stroke-width="1" />
<polygon points="-23.8,858.8 -3.9,858.8 0.1,861.5 0.1,877.5 4.1,880.7 50.4,880.7 53.9,883.9 53.9,908.6 50.4,911.8 50.4,931 53.9,931 53.9,943 50.4,944.5 50.4,950 53.9,953.3 53.9,967.7 41.6,967.7 41.6,970.9 44.8,970.9 44.8,977.3 41.6,981.3 51.2,990.8 4.1,990.8 12.1,981.3 9.7,977.3 9.7,970.9 12.9,967.7 3.3,967.7 3.3,953.3 9.7,950 9.7,944.5 3.3,943 3.3,931 13.7,931 13.7,911 10.7,908.6 -10.5,908.6 -13.5,911 -13.5,931 -3.1,931 -3.1,943 -9.5,944.5 -9.5,950 -3.1,953.3 -3.1,967.7 -12.7,967.7 -9.5,970.9 -9.5,977.3 -11.9,981.3 -3.9,990.8 -51,990.8 -41.4,981.3 -44.6,977.3 -44.6,970.9 -41.4,970.9 -41.4,967.7 -53.7,967.7 -53.7,953.3 -50.2,950 -50.2,944.5 -53.7,943 -53.7,931 -50.2,931 -50.2,911.8 -53.7,908.6 -53.7,883.9 -50.2,880.7 -31,880.7 -27,877.5 -27,861.5" fill="#ffcc99" stroke="#000" stroke-width="1" />
<path d="M-55.3,653 Q-37,636 -33.5,624 Q-30.5,612 -29.5,603 Q-26.5,584 0,583 Q26.5,584 29.5,603 Q30.5,612 33.5,624 Q37,636 55.3,653 Z" fill="#00ffff" stroke="#000" stroke-width="4" />
<path d="M-13.8,655 L-13.8,640 A13.8,13.8 0 0 1 13.8,640 L13.8,655 Z" fill="#fff" stroke="#000" stroke-width="4" />
<rect x="-11.8" y="641" width="23.6" height="15" fill="#fff" stroke="none" stroke-width="1" />
<path d="M0.5,628V656M-11.8,638.5H11.8" stroke="#ff9966" stroke-width="1"/>
<circle cx="0" cy="638" r="8" fill="none" stroke="#000" stroke-width="1.2" />
<path d="M-55.3,653 Q-67,668 -69.3,700 L-69.3,994 L69.3,994 L69.3,700 Q67,668 55.3,653" fill="none" stroke="#000" stroke-width="4.5" />
<line x1="-69.3" y1="994" x2="69.3" y2="994" stroke="#000" stroke-width="4.5" />
<circle cx="13.5" cy="843" r="8.5" fill="none" stroke="#000" stroke-width="1" stroke-dasharray="3 2.5" />
<rect x="44" y="855" width="27" height="4" fill="#000" stroke="none" stroke-width="1" />
<rect x="44" y="873" width="27" height="4" fill="#000" stroke="none" stroke-width="1" />
<rect x="67" y="857" width="4.5" height="18" fill="#fff" stroke="none" stroke-width="1" />
</g>
<g transform="translate(2087,0) scale(-1,1)">
<path d="M-55.3,653 Q-67,668 -69.3,700 L-69.3,994 L69.3,994 L69.3,700 Q67,668 55.3,653 Z" fill="#fff"/>
<clipPath id="cl2"><path d="M-55.3,653 Q-67,668 -69.3,700 L-69.3,994 L69.3,994 L69.3,700 Q67,668 55.3,653 Z"/><path d="M-12,653 L-12,640 A12,12 0 0 1 12,640 L12,653 Z"/></clipPath>
<path d="M-82.5 600V1000M-55.5 600V1000M-27.5 600V1000M-0.5 600V1000M26.5 600V1000M54.5 600V1000M81.5 600V1000M-75 612.5H75M-75 639.5H75M-75 666.5H75M-75 693.5H75M-75 721.5H75M-75 748.5H75M-75 775.5H75M-75 803.5H75M-75 830.5H75M-75 857.5H75M-75 884.5H75M-75 912.5H75M-75 939.5H75M-75 966.5H75M-75 994.5H75" stroke="#ff9966" stroke-width="1" clip-path="url(#cl2)"/>
<polygon points="-45.5,667.6 -13.6,667.6 -13.6,672 -4.9,679.6 -4.9,697.2 -9.7,697.2 -9.7,712.6 0,712.6 0,717 -9.7,717 -9.7,721 0,721 0,726 -9.7,726 -9.7,730 0,730 0,734.5 -9.7,734.5 -9.7,752 -4.9,757.6 -4.9,777.3 -9.7,781.7 -9.7,818 -4.9,818 -4.9,844.3 -36.7,844.3 -36.7,854.2 -40,858.1 -48.8,858.1 -54.3,853 -54.3,818 -49.9,818 -49.9,781.7 -54.7,777.3 -54.7,757.6 -49.9,752 -49.9,734.5 -59.7,734.5 -59.7,730 -49.9,730 -49.9,726 -59.7,726 -59.7,721 -49.9,721 -49.9,717 -59.7,717 -59.7,712.6 -49.9,712.6 -49.9,697.2 -54.7,697.2 -54.7,679.6 -45.5,672" fill="#ffcc99" stroke="#000" stroke-width="1" />
<polygon points="36.4,667.6 45.2,667.6 45.2,671 54.4,679.6 54.4,697.2 50,697.2 50,712.6 54.4,712.6 54.4,717 50,717 50,721 54.4,721 54.4,726 50,726 50,730 54.4,730 54.4,734.5 50,734.5 50,752 54.4,757.6 54.4,781 50,788.3 50,825.6 54.4,825.6 54.4,853 41.2,853 41.2,839.9 27,839.9 27,825.6 31.4,825.6 31.4,788.3 27,784 27,757.6 31.4,752 31.4,734.5 27,734.5 27,730 31.4,730 31.4,726 27,726 27,721 31.4,721 31.4,717 27,717 27,712.6 31.4,712.6 31.4,697.2 27,697.2 27,679.6 36.4,671" fill="#ffcc99" stroke="#000" stroke-width="1" />
<polygon points="-23.8,858.8 -3.9,858.8 0.1,861.5 0.1,877.5 4.1,880.7 50.4,880.7 53.9,883.9 53.9,908.6 50.4,911.8 50.4,931 53.9,931 53.9,943 50.4,944.5 50.4,950 53.9,953.3 53.9,967.7 41.6,967.7 41.6,970.9 44.8,970.9 44.8,977.3 41.6,981.3 51.2,990.8 4.1,990.8 12.1,981.3 9.7,977.3 9.7,970.9 12.9,967.7 3.3,967.7 3.3,953.3 9.7,950 9.7,944.5 3.3,943 3.3,931 13.7,931 13.7,911 10.7,908.6 -10.5,908.6 -13.5,911 -13.5,931 -3.1,931 -3.1,943 -9.5,944.5 -9.5,950 -3.1,953.3 -3.1,967.7 -12.7,967.7 -9.5,970.9 -9.5,977.3 -11.9,981.3 -3.9,990.8 -51,990.8 -41.4,981.3 -44.6,977.3 -44.6,970.9 -41.4,970.9 -41.4,967.7 -53.7,967.7 -53.7,953.3 -50.2,950 -50.2,944.5 -53.7,943 -53.7,931 -50.2,931 -50.2,911.8 -53.7,908.6 -53.7,883.9 -50.2,880.7 -31,880.7 -27,877.5 -27,861.5" fill="#ffcc99" stroke="#000" stroke-width="1" />
<path d="M-55.3,653 Q-37,636 -33.5,624 Q-30.5,612 -29.5,603 Q-26.5,584 0,583 Q26.5,584 29.5,603 Q30.5,612 33.5,624 Q37,636 55.3,653 Z" fill="#00ffff" stroke="#000" stroke-width="4" />
<path d="M-13.8,655 L-13.8,640 A13.8,13.8 0 0 1 13.8,640 L13.8,655 Z" fill="#fff" stroke="#000" stroke-width="4" />
<rect x="-11.8" y="641" width="23.6" height="15" fill="#fff" stroke="none" stroke-width="1" />
<path d="M-0.5,628V656M-11.8,638.5H11.8" stroke="#ff9966" stroke-width="1"/>
<circle cx="0" cy="638" r="8" fill="none" stroke="#000" stroke-width="1.2" />
<path d="M-55.3,653 Q-67,668 -69.3,700 L-69.3,994 L69.3,994 L69.3,700 Q67,668 55.3,653" fill="none" stroke="#000" stroke-width="4.5" />
<line x1="-69.3" y1="994" x2="69.3" y2="994" stroke="#000" stroke-width="4.5" />
<circle cx="13.5" cy="843" r="8.5" fill="none" stroke="#000" stroke-width="1" stroke-dasharray="3 2.5" />
<rect x="44" y="855" width="27" height="4" fill="#000" stroke="none" stroke-width="1" />
<rect x="44" y="873" width="27" height="4" fill="#000" stroke="none" stroke-width="1" />
<rect x="67" y="857" width="4.5" height="18" fill="#fff" stroke="none" stroke-width="1" />
</g>
<text x="1705.5" y="614" font-size="14" text-anchor="middle" fill="#000" >fuel</text>
<text x="2087.5" y="614" font-size="14" text-anchor="middle" fill="#000" >fuel</text>
<text x="1705.5" y="668" font-size="12" font-weight="bold" text-anchor="middle" fill="#000" >10</text>
<text x="2087.5" y="664" font-size="12" font-weight="bold" text-anchor="middle" fill="#000" >12</text>
<text x="1718.5" y="795" font-size="12" font-weight="bold" text-anchor="middle" fill="#000" >13</text>
<text x="2074" y="795" font-size="12" font-weight="bold" text-anchor="middle" fill="#000" >15</text>
<text x="1763" y="871" font-size="12" font-weight="bold" text-anchor="middle" fill="#000" >16</text>
<text x="2031" y="871" font-size="12" font-weight="bold" text-anchor="middle" fill="#000" >17</text>
<rect x="1749.5" y="857" width="5" height="18" fill="#fff" stroke="none" stroke-width="1" />
<path d="M1749 857L1749 861L1751.4 866L1749 871L1749 875L1755 875L1755 871L1752.6 866L1755 861L1755 857Z" fill="#000"/>
<circle cx="1752" cy="860.5" r="1.3" fill="#fff" stroke="none" stroke-width="1" />
<circle cx="1752" cy="871.5" r="1.3" fill="#fff" stroke="none" stroke-width="1" />
<rect x="1770.5" y="857" width="5" height="18" fill="#fff" stroke="none" stroke-width="1" />
<path d="M1770 857L1770 861L1772.4 866L1770 871L1770 875L1776 875L1776 871L1773.6 866L1776 861L1776 857Z" fill="#000"/>
<circle cx="1773" cy="860.5" r="1.3" fill="#fff" stroke="none" stroke-width="1" />
<circle cx="1773" cy="871.5" r="1.3" fill="#fff" stroke="none" stroke-width="1" />
<rect x="2017.5" y="857" width="5" height="18" fill="#fff" stroke="none" stroke-width="1" />
<path d="M2017 857L2017 861L2019.4 866L2017 871L2017 875L2023 875L2023 871L2020.6 866L2023 861L2023 857Z" fill="#000"/>
<circle cx="2020" cy="860.5" r="1.3" fill="#fff" stroke="none" stroke-width="1" />
<circle cx="2020" cy="871.5" r="1.3" fill="#fff" stroke="none" stroke-width="1" />
<rect x="2038.5" y="857" width="5" height="18" fill="#fff" stroke="none" stroke-width="1" />
<path d="M2038 857L2038 861L2040.4 866L2038 871L2038 875L2044 875L2044 871L2041.6 866L2044 861L2044 857Z" fill="#000"/>
<circle cx="2041" cy="860.5" r="1.3" fill="#fff" stroke="none" stroke-width="1" />
<circle cx="2041" cy="871.5" r="1.3" fill="#fff" stroke="none" stroke-width="1" />
<path d="M1633.7,530 L1645.7,530 Q1650,530 1657,539 L1657,577.9 Q1650,586.9 1645.7,586.9 L1633.7,586.9 Q1629.4,586.9 1622.4,577.9 L1622.4,539 Q1629.4,530 1633.7,530 Z" fill="#ffffcc" stroke="#000" stroke-width="4.8" />
<path d="M1630.4,585.4 L1630.4,561 Q1630.4,552 1639.7,552 Q1649,552 1649,561 L1649,585.4 Z" fill="#fff" stroke="#000" stroke-width="1" />
<path d="M1640.2,553V585.4M1631.7,578.4H1647.7" stroke="#ff9966" stroke-width="1"/>
<circle cx="1639.7" cy="578.4" r="7.6" fill="none" stroke="#000" stroke-width="1" />
<path d="M1634.2,567 L1634.2,558 Q1634.2,555 1639.7,555 Q1645.2,555 1645.2,558 L1645.2,567 Z M1636.2,558V564.5H1643.2V558" fill="none" stroke="#000" stroke-width="1.1"/>
<text x="1639.7" y="547" font-size="12" font-weight="bold" text-anchor="middle" fill="#000" >9</text>
<path d="M2158.5,590 L2170.5,590 Q2174.6,590 2181.6,599 L2181.6,637.3 Q2174.6,646.3 2170.5,646.3 L2158.5,646.3 Q2154.4,646.3 2147.4,637.3 L2147.4,599 Q2154.4,590 2158.5,590 Z" fill="#ffffcc" stroke="#000" stroke-width="4.8" />
<path d="M2155.2,644.8 L2155.2,621 Q2155.2,612 2164.5,612 Q2173.8,612 2173.8,621 L2173.8,644.8 Z" fill="#fff" stroke="#000" stroke-width="1" />
<path d="M2165,613V644.8M2156.5,637.8H2172.5" stroke="#ff9966" stroke-width="1"/>
<circle cx="2164.5" cy="637.8" r="7.6" fill="none" stroke="#000" stroke-width="1" />
<path d="M2159,627 L2159,618 Q2159,615 2164.5,615 Q2170,615 2170,618 L2170,627 Z M2161,618V624.5H2168V618" fill="none" stroke="#000" stroke-width="1.1"/>
<text x="2164.5" y="607" font-size="12" font-weight="bold" text-anchor="middle" fill="#000" >11</text>
<line x1="1654" y1="588" x2="1691" y2="627" stroke="#000" stroke-width="1" />
<polygon points="1691,627 1683.2,623.4 1687.8,619" fill="#000" stroke="none" stroke-width="1" />
<line x1="2143" y1="640" x2="2105" y2="640" stroke="#000" stroke-width="1" />
<polygon points="2105,640 2113,636.8 2113,643.2" fill="#000" stroke="none" stroke-width="1" />
<path d="M1778,355 L1740.7,426.8 L1725.7,468.7 L1713.8,516.6 L1706.3,555.6 L1705.4,581" fill="none" stroke="#000" stroke-width="3" stroke-dasharray="9 7.5"/>
<path d="M2015,355 L2052.3,426.8 L2067.3,468.7 L2079.2,516.6 L2086.7,555.6 L2087.6,581" fill="none" stroke="#000" stroke-width="3" stroke-dasharray="9 7.5"/>
<path d="M1677.8,593 L1613.5,614" fill="none" stroke="#000" stroke-width="3" stroke-dasharray="9 7.5"/>
<path d="M2113,589 Q2125,593 2138,598" fill="none" stroke="#000" stroke-width="3" stroke-dasharray="9 7.5"/>
<path d="M1609,960 L1622,961" fill="none" stroke="#000" stroke-width="2.5" stroke-dasharray="8 6"/>
<path d="M2164,960 L2190,958" fill="none" stroke="#000" stroke-width="2.5" stroke-dasharray="8 6"/>
<path d="M133,66 L160,65.6 L190,64.6 L212,64.2 L212,68.6 L133,68.6 Z" fill="#fff" stroke="#000" stroke-width="1.1" />
<path d="M381,66 L354,65.6 L324,64.6 L303,64.2 L303,68.6 L381,68.6 Z" fill="#fff" stroke="#000" stroke-width="1.1" />
<rect x="221.3" y="36" width="8.4" height="9" rx="3.5" fill="#fff" stroke="#000" stroke-width="1.1" />
<rect x="284.4" y="36" width="9.2" height="9" rx="3.5" fill="#fff" stroke="#000" stroke-width="1.1" />
<path d="M212,55 L210,50 L212,45 Q214,43 220,43 L238,43 Q241,44 241.4,48 L241.4,55 Z" fill="#fff" stroke="#000" stroke-width="1.1" />
<path d="M273,55 L272.4,48 Q273,43 280,43 L300,43 Q305.5,44 305.5,49 Q305.5,54 303,55 Z" fill="#fff" stroke="#000" stroke-width="1.1" />
<circle cx="218.9" cy="49.6" r="6" fill="#ff0000" stroke="#000" stroke-width="0.6" />
<circle cx="232.8" cy="49.6" r="6" fill="#ff0000" stroke="#000" stroke-width="0.6" />
<path d="M216,55 L301,55 L304.8,68.6 L209.6,68.6 Z" fill="#fff" stroke="#000" stroke-width="1.1" />
<line x1="216" y1="55.3" x2="301" y2="55.3" stroke="#000" stroke-width="1.6" />
<rect x="257.9" y="55.8" width="11.2" height="6.6" fill="#00ffff" stroke="none" stroke-width="1" />
<path d="M266,55.8 Q269,56.5 269.1,59 L269.1,62.4" fill="none" stroke="#000" stroke-width="0.9" />
<ellipse cx="241.2" cy="62" rx="1.8" ry="2.8" fill="#fff" stroke="#000" stroke-width="0.9"/>
<line x1="209.6" y1="68.6" x2="304.8" y2="68.6" stroke="#000" stroke-width="1.6" />
<rect x="229.5" y="68.6" width="56.2" height="12.4" fill="#fff" stroke="#000" stroke-width="1.1" />
<line x1="229.5" y1="81" x2="257.5" y2="81" stroke="#000" stroke-width="1.8" />
<rect x="250" y="81" width="14" height="2.5" fill="#fff" stroke="#000" stroke-width="0.8" />
<path d="M199,69 L228,69 L229.6,75 L228,81.6 L199,81.6 Q195.8,78 195.8,75 Q195.8,71 199,69 Z" fill="#fff" stroke="#000" stroke-width="1.1" />
<circle cx="206" cy="74.3" r="6" fill="#ff0000" stroke="#000" stroke-width="0.6" />
<circle cx="220" cy="74.3" r="6" fill="#ff0000" stroke="#000" stroke-width="0.6" />
<path d="M207,82 L218,82 L217,86 Q213,88 208,86 Z" fill="#fff" stroke="#000" stroke-width="1" />
<path d="M286.3,69 L313,69 Q317.4,71 317.4,75 Q317.4,80 313,81.6 L286.3,81.6 Z" fill="#fff" stroke="#000" stroke-width="1.1" />
<path d="M296,82 L306,82 L305,86 Q301,88 297,86 Z" fill="#fff" stroke="#000" stroke-width="1" />
<line x1="257.5" y1="34" x2="257.5" y2="90" stroke="#000" stroke-width="1.1" />
<path d="M69,337 L69,140 Q70,122 74,114 Q76,109 77.7,108.6 Q80,110 81,122 L81.8,189 Q89,196 94,208 L95.2,215 L95.2,337 Z" fill="#fff" stroke="#000" stroke-width="1.1" />
<line x1="69" y1="140" x2="69" y2="337" stroke="#000" stroke-width="1.8" />
<path d="M69.5,124 L74.5,118 L74.5,140 L69.5,140 Z" fill="#00ffff" stroke="none" stroke-width="1" />
<path d="M56.7,337 L56.7,248 Q57,242 62,241.5 L68.8,241.5 L68.8,337 Z" fill="#fff" stroke="#000" stroke-width="1.1" />
<path d="M81,337 L81,248 Q81.5,242 86,241.5 L91,241.5 Q96.6,242 96.6,248 L96.6,337 Z" fill="#fff" stroke="#000" stroke-width="1.1" />
<path d="M56.7,247 Q52,249 52,254 Q52,258 56.7,259" fill="none" stroke="#000" stroke-width="1" />
<path d="M96.6,247 Q101,249 101,254 Q101,258 96.6,259" fill="none" stroke="#000" stroke-width="1" />
<circle cx="73.5" cy="254" r="1.8" fill="#fff" stroke="#000" stroke-width="0.8" />
<rect x="95.2" y="215" width="2.5" height="8" fill="#fff" stroke="#000" stroke-width="0.8" />
<rect x="95.2" y="265" width="2.5" height="8" fill="#fff" stroke="#000" stroke-width="0.8" />
<rect x="95.2" y="290" width="2.5" height="8" fill="#fff" stroke="#000" stroke-width="0.8" />
<rect x="95.2" y="316" width="2.5" height="8" fill="#fff" stroke="#000" stroke-width="0.8" />
<line x1="56.7" y1="337" x2="96.6" y2="337" stroke="#000" stroke-width="1.6" />
<line x1="69" y1="330.4" x2="81" y2="330.4" stroke="#000" stroke-width="1.6" />
<path d="M80.5,270 Q79,300 80.5,330" fill="none" stroke="#000" stroke-width="1.8" />
<path d="M257.7,108.6 Q247,118 244.8,132.3 Q242,150 242,167.4 Q238,190 228.6,202.4 Q220,212 216.5,221.3 Q212.5,232 212.5,242.8 L133,267 L133,323.7 L196.3,330.4 L196.3,337 L318,337 L318,330.4 L305.4,330.4 L382.2,323.7 L382.2,267 L302.7,241.5 Q302.7,232 298.9,221.3 Q295,212 286.8,202.4 Q277,190 273.4,167.4 Q273,150 270.6,132.3 Q268,118 257.7,108.6 Z" fill="#fff" stroke="#000" stroke-width="1.1" />
<line x1="133" y1="267" x2="133" y2="323.7" stroke="#000" stroke-width="1.1" />
<line x1="302.7" y1="241.5" x2="382.2" y2="267" stroke="#000" stroke-width="1.6" />
<line x1="382.2" y1="267" x2="382.2" y2="323.7" stroke="#000" stroke-width="1.6" />
<path d="M257.7,121.6 Q266,122 268,128 L269,140.4 L257.7,140.4 Z" fill="#00ffff" stroke="#000" stroke-width="0.9" />
<path d="M196.3,337 L196.3,262 Q197,250 203,246 Q212,240 219,243 Q226,248 228.6,262 L228.6,337" fill="#fff" stroke="#000" stroke-width="1.1" />
<line x1="196.3" y1="262" x2="196.3" y2="337" stroke="#000" stroke-width="1.8" />
<path d="M273,337 L273,262 Q274,250 280,246 Q288,240 296,243 Q303,248 304,262 L304,337" fill="#fff" stroke="#000" stroke-width="1.1" />
<line x1="273" y1="262" x2="273" y2="337" stroke="#000" stroke-width="1.8" />
<rect x="209.2" y="244" width="7.3" height="15" rx="3" fill="#fff" stroke="#000" stroke-width="1" />
<rect x="285.2" y="244" width="7" height="15" rx="3" fill="#fff" stroke="#000" stroke-width="1" />
<line x1="212" y1="246" x2="212" y2="256" stroke="#000" stroke-width="1" />
<line x1="288.5" y1="246" x2="288.5" y2="256" stroke="#000" stroke-width="1" />
<path d="M231.3,337 L231.3,196 Q231.5,191.6 236,191.6 L257.7,191.6" fill="none" stroke="#000" stroke-width="1.4" />
<line x1="231.3" y1="230" x2="231.3" y2="337" stroke="#000" stroke-width="1.8" />
<rect x="206.8" y="265.7" width="12.4" height="14.3" fill="#fff" stroke="#000" stroke-width="1" />
<rect x="206.8" y="315.6" width="12.4" height="14.8" fill="#fff" stroke="#000" stroke-width="1" />
<line x1="206.8" y1="268" x2="219.2" y2="268" stroke="#000" stroke-width="0.8" />
<line x1="206.8" y1="318" x2="219.2" y2="318" stroke="#000" stroke-width="0.8" />
<rect x="250" y="191.6" width="7.7" height="12.1" fill="#fff" stroke="#000" stroke-width="1" />
<rect x="250" y="214.5" width="7.7" height="14.8" fill="#fff" stroke="#000" stroke-width="1" />
<rect x="250" y="290" width="7.7" height="14.8" fill="#fff" stroke="#000" stroke-width="1" />
<line x1="196.3" y1="337" x2="318" y2="337" stroke="#000" stroke-width="1.6" />
<line x1="257.7" y1="330.4" x2="273" y2="330.4" stroke="#000" stroke-width="1.6" />
<line x1="257.5" y1="97" x2="257.5" y2="364" stroke="#000" stroke-width="1.1" />
<path d="M412.3,140.1 L490,140.1 L489,136 Q492,133 497,133 Q502,133 504,137 Q508,142 508,147 Q508,152 506,153.1 L412.3,153.1 Z" fill="#fff" stroke="#000" stroke-width="1.1" />
<circle cx="489" cy="137.5" r="1.5" fill="#fff" stroke="#000" stroke-width="0.8" />
<path d="M412.3,153.1 L611.5,153.1 Q620,153.5 625,156 L641.3,161.5 Q638,163.5 625.7,164.8 L506.4,165.4 L420,165.4 L420,153.1 Z" fill="#fff" stroke="#000" stroke-width="1.1" />
<line x1="412.3" y1="153.3" x2="611.5" y2="153.3" stroke="#000" stroke-width="2.3" />
<path d="M609.5,153.7 L619,154 L625,156.5 L619,158.3 L609.5,158.3 Z" fill="#00ffff" stroke="#000" stroke-width="0.7" />
<line x1="418.8" y1="153" x2="418.8" y2="165.4" stroke="#000" stroke-width="1.8" />
<ellipse cx="495.5" cy="158" rx="1.6" ry="2.4" fill="#fff" stroke="#000" stroke-width="0.9"/>
<path d="M424,164.8 Q440,162 460,161.5 L480,161.5 Q484,164 485,165" fill="none" stroke="#000" stroke-width="1.8" />
<path d="M412.3,165.4 L506,165.4 Q508,168 508,172 Q508,176 506,178.4 L412.3,178.4 Z" fill="#fff" stroke="#000" stroke-width="1.1" />
<path d="M490,178.4 Q489,184 497,184.5 L505,184 L506,180" fill="#fff" stroke="#000" stroke-width="1.1" />
<path d="M561,165.4 Q552,167 546,172 Q542,177 536,178.4 L506,178.4" fill="none" stroke="#000" stroke-width="1.1" />
<line x1="546.6" y1="174.5" x2="555.7" y2="188.1" stroke="#000" stroke-width="1.4" />
<line x1="412.3" y1="188.3" x2="603" y2="188.3" stroke="#000" stroke-width="1.1" />
<rect x="421.3" y="180" width="3.6" height="5.5" fill="#fff" stroke="#000" stroke-width="0.9" />
<rect x="428.3" y="180" width="3.6" height="5.5" fill="#fff" stroke="#000" stroke-width="0.9" />
<rect x="418.6" y="185.5" width="16" height="2.5" fill="#fff" stroke="#000" stroke-width="0.8" />
<line x1="423.1" y1="178.4" x2="423.1" y2="180" stroke="#000" stroke-width="0.9" />
<line x1="430.1" y1="178.4" x2="430.1" y2="180" stroke="#000" stroke-width="0.9" />
<rect x="446.3" y="180" width="3.6" height="5.5" fill="#fff" stroke="#000" stroke-width="0.9" />
<rect x="453.3" y="180" width="3.6" height="5.5" fill="#fff" stroke="#000" stroke-width="0.9" />
<rect x="443.6" y="185.5" width="16" height="2.5" fill="#fff" stroke="#000" stroke-width="0.8" />
<line x1="448.1" y1="178.4" x2="448.1" y2="180" stroke="#000" stroke-width="0.9" />
<line x1="455.1" y1="178.4" x2="455.1" y2="180" stroke="#000" stroke-width="0.9" />
<rect x="471.2" y="180" width="3.6" height="5.5" fill="#fff" stroke="#000" stroke-width="0.9" />
<rect x="478.2" y="180" width="3.6" height="5.5" fill="#fff" stroke="#000" stroke-width="0.9" />
<rect x="468.5" y="185.5" width="16" height="2.5" fill="#fff" stroke="#000" stroke-width="0.8" />
<line x1="473" y1="178.4" x2="473" y2="180" stroke="#000" stroke-width="0.9" />
<line x1="480" y1="178.4" x2="480" y2="180" stroke="#000" stroke-width="0.9" />
<rect x="522.5" y="180" width="3.6" height="5.5" fill="#fff" stroke="#000" stroke-width="0.9" />
<rect x="529.5" y="180" width="3.6" height="5.5" fill="#fff" stroke="#000" stroke-width="0.9" />
<rect x="519.8" y="185.5" width="16" height="2.5" fill="#fff" stroke="#000" stroke-width="0.8" />
<line x1="524.3" y1="178.4" x2="524.3" y2="180" stroke="#000" stroke-width="0.9" />
<line x1="531.3" y1="178.4" x2="531.3" y2="180" stroke="#000" stroke-width="0.9" />
</svg>
</body></html>
